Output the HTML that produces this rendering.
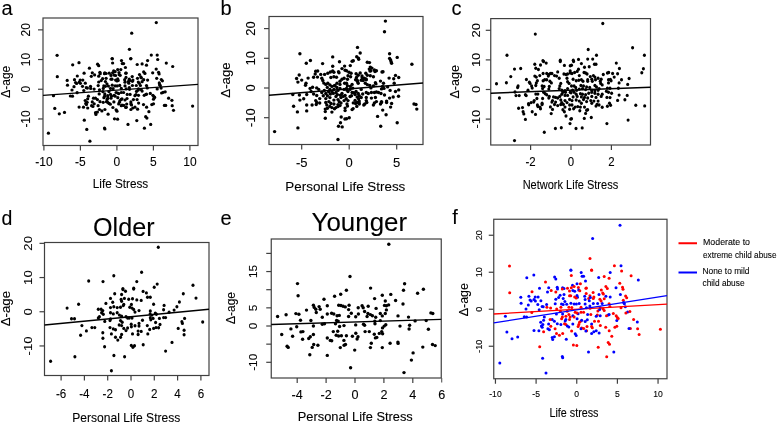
<!DOCTYPE html><html><head><meta charset="utf-8"><style>
html,body{margin:0;padding:0;background:#fff;width:778px;height:424px;overflow:hidden}
svg{display:block;will-change:transform}
text{font-family:"Liberation Sans",sans-serif;fill:#000;stroke:#000;stroke-width:0.1px}
</style></head><body>
<svg width="778" height="424" viewBox="0 0 778 424">
<rect x="43" y="18" width="155" height="127.5" fill="none" stroke="#404040" stroke-width="1.2"/>
<line x1="43.90" y1="145.5" x2="43.90" y2="150.5" stroke="#404040" stroke-width="1.2"/>
<line x1="80.40" y1="145.5" x2="80.40" y2="150.5" stroke="#404040" stroke-width="1.2"/>
<line x1="116.90" y1="145.5" x2="116.90" y2="150.5" stroke="#404040" stroke-width="1.2"/>
<line x1="153.40" y1="145.5" x2="153.40" y2="150.5" stroke="#404040" stroke-width="1.2"/>
<line x1="189.90" y1="145.5" x2="189.90" y2="150.5" stroke="#404040" stroke-width="1.2"/>
<line x1="38" y1="29.85" x2="43" y2="29.85" stroke="#404040" stroke-width="1.2"/>
<line x1="38" y1="59.55" x2="43" y2="59.55" stroke="#404040" stroke-width="1.2"/>
<line x1="38" y1="89.25" x2="43" y2="89.25" stroke="#404040" stroke-width="1.2"/>
<line x1="38" y1="118.95" x2="43" y2="118.95" stroke="#404040" stroke-width="1.2"/>
<rect x="269" y="16.5" width="154" height="128.0" fill="none" stroke="#404040" stroke-width="1.2"/>
<line x1="301.70" y1="144.5" x2="301.70" y2="149.5" stroke="#404040" stroke-width="1.2"/>
<line x1="349.20" y1="144.5" x2="349.20" y2="149.5" stroke="#404040" stroke-width="1.2"/>
<line x1="396.70" y1="144.5" x2="396.70" y2="149.5" stroke="#404040" stroke-width="1.2"/>
<line x1="264" y1="28.60" x2="269" y2="28.60" stroke="#404040" stroke-width="1.2"/>
<line x1="264" y1="58.30" x2="269" y2="58.30" stroke="#404040" stroke-width="1.2"/>
<line x1="264" y1="88.00" x2="269" y2="88.00" stroke="#404040" stroke-width="1.2"/>
<line x1="264" y1="117.70" x2="269" y2="117.70" stroke="#404040" stroke-width="1.2"/>
<rect x="490.75" y="18.6" width="159.75" height="126.4" fill="none" stroke="#404040" stroke-width="1.2"/>
<line x1="530.60" y1="145" x2="530.60" y2="150" stroke="#404040" stroke-width="1.2"/>
<line x1="571.00" y1="145" x2="571.00" y2="150" stroke="#404040" stroke-width="1.2"/>
<line x1="611.40" y1="145" x2="611.40" y2="150" stroke="#404040" stroke-width="1.2"/>
<line x1="485.75" y1="30.30" x2="490.75" y2="30.30" stroke="#404040" stroke-width="1.2"/>
<line x1="485.75" y1="59.90" x2="490.75" y2="59.90" stroke="#404040" stroke-width="1.2"/>
<line x1="485.75" y1="89.50" x2="490.75" y2="89.50" stroke="#404040" stroke-width="1.2"/>
<line x1="485.75" y1="119.10" x2="490.75" y2="119.10" stroke="#404040" stroke-width="1.2"/>
<rect x="44.5" y="242.5" width="164.5" height="133.0" fill="none" stroke="#404040" stroke-width="1.2"/>
<line x1="61.10" y1="375.5" x2="61.10" y2="380.5" stroke="#404040" stroke-width="1.2"/>
<line x1="84.40" y1="375.5" x2="84.40" y2="380.5" stroke="#404040" stroke-width="1.2"/>
<line x1="107.70" y1="375.5" x2="107.70" y2="380.5" stroke="#404040" stroke-width="1.2"/>
<line x1="131.00" y1="375.5" x2="131.00" y2="380.5" stroke="#404040" stroke-width="1.2"/>
<line x1="154.30" y1="375.5" x2="154.30" y2="380.5" stroke="#404040" stroke-width="1.2"/>
<line x1="177.60" y1="375.5" x2="177.60" y2="380.5" stroke="#404040" stroke-width="1.2"/>
<line x1="200.90" y1="375.5" x2="200.90" y2="380.5" stroke="#404040" stroke-width="1.2"/>
<line x1="39.5" y1="243.35" x2="44.5" y2="243.35" stroke="#404040" stroke-width="1.2"/>
<line x1="39.5" y1="277.55" x2="44.5" y2="277.55" stroke="#404040" stroke-width="1.2"/>
<line x1="39.5" y1="311.75" x2="44.5" y2="311.75" stroke="#404040" stroke-width="1.2"/>
<line x1="39.5" y1="345.95" x2="44.5" y2="345.95" stroke="#404040" stroke-width="1.2"/>
<rect x="271.25" y="239" width="170.0" height="139" fill="none" stroke="#404040" stroke-width="1.2"/>
<line x1="297.20" y1="378" x2="297.20" y2="383" stroke="#404040" stroke-width="1.2"/>
<line x1="326.10" y1="378" x2="326.10" y2="383" stroke="#404040" stroke-width="1.2"/>
<line x1="355.00" y1="378" x2="355.00" y2="383" stroke="#404040" stroke-width="1.2"/>
<line x1="383.90" y1="378" x2="383.90" y2="383" stroke="#404040" stroke-width="1.2"/>
<line x1="412.80" y1="378" x2="412.80" y2="383" stroke="#404040" stroke-width="1.2"/>
<line x1="266.25" y1="253.40" x2="271.25" y2="253.40" stroke="#404040" stroke-width="1.2"/>
<line x1="266.25" y1="271.55" x2="271.25" y2="271.55" stroke="#404040" stroke-width="1.2"/>
<line x1="266.25" y1="289.70" x2="271.25" y2="289.70" stroke="#404040" stroke-width="1.2"/>
<line x1="266.25" y1="307.85" x2="271.25" y2="307.85" stroke="#404040" stroke-width="1.2"/>
<line x1="266.25" y1="326.00" x2="271.25" y2="326.00" stroke="#404040" stroke-width="1.2"/>
<line x1="266.25" y1="344.15" x2="271.25" y2="344.15" stroke="#404040" stroke-width="1.2"/>
<line x1="266.25" y1="362.30" x2="271.25" y2="362.30" stroke="#404040" stroke-width="1.2"/>
<rect x="493.75" y="219.25" width="173.25" height="159.5" fill="none" stroke="#404040" stroke-width="1.2"/>
<line x1="495.45" y1="378.75" x2="495.45" y2="383.75" stroke="#404040" stroke-width="1.2"/>
<line x1="536.10" y1="378.75" x2="536.10" y2="383.75" stroke="#404040" stroke-width="1.2"/>
<line x1="576.75" y1="378.75" x2="576.75" y2="383.75" stroke="#404040" stroke-width="1.2"/>
<line x1="617.40" y1="378.75" x2="617.40" y2="383.75" stroke="#404040" stroke-width="1.2"/>
<line x1="658.05" y1="378.75" x2="658.05" y2="383.75" stroke="#404040" stroke-width="1.2"/>
<line x1="488.75" y1="235.25" x2="493.75" y2="235.25" stroke="#404040" stroke-width="1.2"/>
<line x1="488.75" y1="272.25" x2="493.75" y2="272.25" stroke="#404040" stroke-width="1.2"/>
<line x1="488.75" y1="309.25" x2="493.75" y2="309.25" stroke="#404040" stroke-width="1.2"/>
<line x1="488.75" y1="346.25" x2="493.75" y2="346.25" stroke="#404040" stroke-width="1.2"/>
<circle cx="602.7" cy="292.9" r="1.5" fill="#f00"/>
<circle cx="564.5" cy="323.8" r="1.5" fill="#f00"/>
<circle cx="591.6" cy="324.0" r="1.5" fill="#00f"/>
<circle cx="572.5" cy="285.2" r="1.5" fill="#00f"/>
<circle cx="526.0" cy="309.1" r="1.5" fill="#00f"/>
<circle cx="586.2" cy="293.5" r="1.5" fill="#f00"/>
<circle cx="557.2" cy="287.2" r="1.5" fill="#00f"/>
<circle cx="547.5" cy="292.1" r="1.5" fill="#00f"/>
<circle cx="586.4" cy="307.8" r="1.5" fill="#00f"/>
<circle cx="602.2" cy="303.5" r="1.5" fill="#00f"/>
<circle cx="575.2" cy="312.3" r="1.5" fill="#f00"/>
<circle cx="576.4" cy="304.1" r="1.5" fill="#00f"/>
<circle cx="550.6" cy="308.1" r="1.5" fill="#f00"/>
<circle cx="584.7" cy="296.3" r="1.5" fill="#00f"/>
<circle cx="560.9" cy="324.5" r="1.5" fill="#00f"/>
<circle cx="587.0" cy="326.6" r="1.5" fill="#f00"/>
<circle cx="601.3" cy="290.0" r="1.5" fill="#f00"/>
<circle cx="557.5" cy="288.9" r="1.5" fill="#00f"/>
<circle cx="556.7" cy="308.9" r="1.5" fill="#f00"/>
<circle cx="560.4" cy="311.2" r="1.5" fill="#f00"/>
<circle cx="573.4" cy="345.0" r="1.5" fill="#f00"/>
<circle cx="562.6" cy="287.7" r="1.5" fill="#00f"/>
<circle cx="551.2" cy="290.4" r="1.5" fill="#f00"/>
<circle cx="597.9" cy="311.0" r="1.5" fill="#f00"/>
<circle cx="614.4" cy="265.8" r="1.5" fill="#f00"/>
<circle cx="610.2" cy="272.5" r="1.5" fill="#00f"/>
<circle cx="601.1" cy="300.9" r="1.5" fill="#f00"/>
<circle cx="630.4" cy="328.4" r="1.5" fill="#f00"/>
<circle cx="555.8" cy="299.2" r="1.5" fill="#00f"/>
<circle cx="597.3" cy="315.0" r="1.5" fill="#f00"/>
<circle cx="565.9" cy="324.5" r="1.5" fill="#f00"/>
<circle cx="605.7" cy="327.3" r="1.5" fill="#f00"/>
<circle cx="600.2" cy="307.8" r="1.5" fill="#00f"/>
<circle cx="625.3" cy="306.8" r="1.5" fill="#00f"/>
<circle cx="564.0" cy="288.6" r="1.5" fill="#00f"/>
<circle cx="548.6" cy="324.0" r="1.5" fill="#00f"/>
<circle cx="539.7" cy="346.8" r="1.5" fill="#f00"/>
<circle cx="588.7" cy="298.6" r="1.5" fill="#f00"/>
<circle cx="543.2" cy="306.8" r="1.5" fill="#00f"/>
<circle cx="570.7" cy="295.7" r="1.5" fill="#f00"/>
<circle cx="569.5" cy="295.7" r="1.5" fill="#f00"/>
<circle cx="609.1" cy="278.2" r="1.5" fill="#f00"/>
<circle cx="623.3" cy="300.3" r="1.5" fill="#f00"/>
<circle cx="607.3" cy="288.5" r="1.5" fill="#f00"/>
<circle cx="613.8" cy="352.1" r="1.5" fill="#00f"/>
<circle cx="596.2" cy="316.3" r="1.5" fill="#00f"/>
<circle cx="560.1" cy="295.2" r="1.5" fill="#00f"/>
<circle cx="590.0" cy="258.5" r="1.5" fill="#f00"/>
<circle cx="552.2" cy="337.4" r="1.5" fill="#00f"/>
<circle cx="611.8" cy="336.3" r="1.5" fill="#f00"/>
<circle cx="605.9" cy="296.3" r="1.5" fill="#00f"/>
<circle cx="585.5" cy="281.1" r="1.5" fill="#00f"/>
<circle cx="561.5" cy="304.1" r="1.5" fill="#00f"/>
<circle cx="531.2" cy="301.1" r="1.5" fill="#00f"/>
<circle cx="542.6" cy="358.3" r="1.5" fill="#00f"/>
<circle cx="563.2" cy="304.6" r="1.5" fill="#00f"/>
<circle cx="561.6" cy="318.7" r="1.5" fill="#f00"/>
<circle cx="565.9" cy="319.4" r="1.5" fill="#00f"/>
<circle cx="609.1" cy="303.8" r="1.5" fill="#f00"/>
<circle cx="562.6" cy="314.1" r="1.5" fill="#00f"/>
<circle cx="604.2" cy="298.8" r="1.5" fill="#f00"/>
<circle cx="512.0" cy="338.8" r="1.5" fill="#00f"/>
<circle cx="596.2" cy="330.7" r="1.5" fill="#00f"/>
<circle cx="562.7" cy="333.5" r="1.5" fill="#f00"/>
<circle cx="581.7" cy="328.1" r="1.5" fill="#f00"/>
<circle cx="598.7" cy="277.4" r="1.5" fill="#00f"/>
<circle cx="599.6" cy="309.5" r="1.5" fill="#00f"/>
<circle cx="539.5" cy="288.3" r="1.5" fill="#00f"/>
<circle cx="616.8" cy="320.6" r="1.5" fill="#00f"/>
<circle cx="528.9" cy="296.3" r="1.5" fill="#00f"/>
<circle cx="577.5" cy="297.2" r="1.5" fill="#00f"/>
<circle cx="571.3" cy="287.7" r="1.5" fill="#f00"/>
<circle cx="574.1" cy="304.1" r="1.5" fill="#00f"/>
<circle cx="558.6" cy="297.5" r="1.5" fill="#00f"/>
<circle cx="557.3" cy="323.8" r="1.5" fill="#00f"/>
<circle cx="609.1" cy="314.4" r="1.5" fill="#00f"/>
<circle cx="637.6" cy="328.8" r="1.5" fill="#f00"/>
<circle cx="578.1" cy="313.7" r="1.5" fill="#00f"/>
<circle cx="568.9" cy="314.6" r="1.5" fill="#f00"/>
<circle cx="554.4" cy="321.2" r="1.5" fill="#00f"/>
<circle cx="626.7" cy="297.7" r="1.5" fill="#f00"/>
<circle cx="603.4" cy="294.0" r="1.5" fill="#f00"/>
<circle cx="562.7" cy="357.8" r="1.5" fill="#00f"/>
<circle cx="638.3" cy="280.0" r="1.5" fill="#00f"/>
<circle cx="592.3" cy="327.8" r="1.5" fill="#f00"/>
<circle cx="572.9" cy="290.6" r="1.5" fill="#00f"/>
<circle cx="574.7" cy="291.2" r="1.5" fill="#00f"/>
<circle cx="619.8" cy="283.2" r="1.5" fill="#f00"/>
<circle cx="546.6" cy="304.6" r="1.5" fill="#00f"/>
<circle cx="617.3" cy="317.5" r="1.5" fill="#f00"/>
<circle cx="593.8" cy="331.7" r="1.5" fill="#00f"/>
<circle cx="631.1" cy="275.7" r="1.5" fill="#f00"/>
<circle cx="581.0" cy="320.9" r="1.5" fill="#f00"/>
<circle cx="537.8" cy="304.6" r="1.5" fill="#00f"/>
<circle cx="540.9" cy="300.7" r="1.5" fill="#00f"/>
<circle cx="542.1" cy="306.4" r="1.5" fill="#00f"/>
<circle cx="621.0" cy="307.8" r="1.5" fill="#f00"/>
<circle cx="524.3" cy="316.7" r="1.5" fill="#00f"/>
<circle cx="569.5" cy="319.4" r="1.5" fill="#f00"/>
<circle cx="555.8" cy="278.9" r="1.5" fill="#00f"/>
<circle cx="554.6" cy="277.1" r="1.5" fill="#00f"/>
<circle cx="624.4" cy="303.8" r="1.5" fill="#00f"/>
<circle cx="570.9" cy="270.3" r="1.5" fill="#00f"/>
<circle cx="660.4" cy="329.2" r="1.5" fill="#f00"/>
<circle cx="538.9" cy="330.7" r="1.5" fill="#00f"/>
<circle cx="614.9" cy="327.3" r="1.5" fill="#f00"/>
<circle cx="547.9" cy="328.8" r="1.5" fill="#00f"/>
<circle cx="554.4" cy="336.7" r="1.5" fill="#00f"/>
<circle cx="576.2" cy="298.0" r="1.5" fill="#f00"/>
<circle cx="520.8" cy="297.2" r="1.5" fill="#00f"/>
<circle cx="590.1" cy="308.3" r="1.5" fill="#f00"/>
<circle cx="599.0" cy="294.6" r="1.5" fill="#00f"/>
<circle cx="577.0" cy="312.9" r="1.5" fill="#f00"/>
<circle cx="579.5" cy="322.3" r="1.5" fill="#f00"/>
<circle cx="534.0" cy="299.5" r="1.5" fill="#00f"/>
<circle cx="546.0" cy="372.9" r="1.5" fill="#00f"/>
<circle cx="562.3" cy="288.9" r="1.5" fill="#f00"/>
<circle cx="589.3" cy="300.7" r="1.5" fill="#00f"/>
<circle cx="567.5" cy="288.3" r="1.5" fill="#f00"/>
<circle cx="563.2" cy="298.6" r="1.5" fill="#00f"/>
<circle cx="609.9" cy="306.6" r="1.5" fill="#f00"/>
<circle cx="578.4" cy="287.5" r="1.5" fill="#f00"/>
<circle cx="597.6" cy="303.5" r="1.5" fill="#00f"/>
<circle cx="620.4" cy="294.6" r="1.5" fill="#00f"/>
<circle cx="509.5" cy="265.9" r="1.5" fill="#f00"/>
<circle cx="570.9" cy="270.0" r="1.5" fill="#00f"/>
<circle cx="581.0" cy="312.3" r="1.5" fill="#f00"/>
<circle cx="625.6" cy="296.1" r="1.5" fill="#f00"/>
<circle cx="608.2" cy="314.9" r="1.5" fill="#00f"/>
<circle cx="572.8" cy="324.0" r="1.5" fill="#00f"/>
<circle cx="542.2" cy="327.3" r="1.5" fill="#00f"/>
<circle cx="605.9" cy="286.6" r="1.5" fill="#f00"/>
<circle cx="555.8" cy="292.0" r="1.5" fill="#f00"/>
<circle cx="593.9" cy="296.9" r="1.5" fill="#f00"/>
<circle cx="568.8" cy="326.9" r="1.5" fill="#00f"/>
<circle cx="609.5" cy="344.2" r="1.5" fill="#f00"/>
<circle cx="542.9" cy="324.5" r="1.5" fill="#00f"/>
<circle cx="577.0" cy="295.4" r="1.5" fill="#00f"/>
<circle cx="587.3" cy="319.7" r="1.5" fill="#00f"/>
<circle cx="528.3" cy="305.1" r="1.5" fill="#00f"/>
<circle cx="545.5" cy="282.0" r="1.5" fill="#f00"/>
<circle cx="499.8" cy="363.0" r="1.5" fill="#00f"/>
<circle cx="609.2" cy="330.7" r="1.5" fill="#f00"/>
<circle cx="532.0" cy="291.7" r="1.5" fill="#f00"/>
<circle cx="598.5" cy="321.2" r="1.5" fill="#f00"/>
<circle cx="583.6" cy="312.3" r="1.5" fill="#f00"/>
<circle cx="600.2" cy="315.8" r="1.5" fill="#00f"/>
<circle cx="591.6" cy="269.9" r="1.5" fill="#f00"/>
<circle cx="616.2" cy="315.8" r="1.5" fill="#f00"/>
<circle cx="585.2" cy="321.6" r="1.5" fill="#00f"/>
<circle cx="604.2" cy="276.6" r="1.5" fill="#f00"/>
<circle cx="613.3" cy="313.5" r="1.5" fill="#f00"/>
<circle cx="570.1" cy="316.9" r="1.5" fill="#f00"/>
<circle cx="571.6" cy="330.9" r="1.5" fill="#f00"/>
<circle cx="579.2" cy="303.4" r="1.5" fill="#00f"/>
<circle cx="621.0" cy="265.8" r="1.5" fill="#00f"/>
<circle cx="598.2" cy="347.3" r="1.5" fill="#f00"/>
<circle cx="589.9" cy="295.7" r="1.5" fill="#f00"/>
<circle cx="574.1" cy="286.4" r="1.5" fill="#f00"/>
<circle cx="564.9" cy="301.5" r="1.5" fill="#00f"/>
<circle cx="593.3" cy="298.4" r="1.5" fill="#f00"/>
<circle cx="571.3" cy="275.5" r="1.5" fill="#f00"/>
<circle cx="586.6" cy="330.7" r="1.5" fill="#f00"/>
<circle cx="569.5" cy="290.9" r="1.5" fill="#f00"/>
<circle cx="593.3" cy="303.5" r="1.5" fill="#00f"/>
<circle cx="577.0" cy="283.7" r="1.5" fill="#00f"/>
<circle cx="565.2" cy="320.9" r="1.5" fill="#00f"/>
<circle cx="555.1" cy="328.8" r="1.5" fill="#f00"/>
<circle cx="575.2" cy="333.8" r="1.5" fill="#00f"/>
<circle cx="583.6" cy="276.3" r="1.5" fill="#00f"/>
<circle cx="623.0" cy="289.2" r="1.5" fill="#f00"/>
<circle cx="585.9" cy="330.9" r="1.5" fill="#00f"/>
<circle cx="564.0" cy="294.6" r="1.5" fill="#00f"/>
<circle cx="530.0" cy="300.0" r="1.5" fill="#00f"/>
<circle cx="639.1" cy="334.5" r="1.5" fill="#f00"/>
<circle cx="560.9" cy="307.2" r="1.5" fill="#f00"/>
<circle cx="543.6" cy="331.7" r="1.5" fill="#f00"/>
<circle cx="578.7" cy="290.0" r="1.5" fill="#00f"/>
<circle cx="506.9" cy="332.1" r="1.5" fill="#00f"/>
<circle cx="581.0" cy="307.2" r="1.5" fill="#f00"/>
<circle cx="565.9" cy="316.3" r="1.5" fill="#f00"/>
<circle cx="637.3" cy="322.0" r="1.5" fill="#00f"/>
<circle cx="627.6" cy="312.1" r="1.5" fill="#00f"/>
<circle cx="555.2" cy="303.8" r="1.5" fill="#00f"/>
<circle cx="568.9" cy="307.2" r="1.5" fill="#f00"/>
<circle cx="604.2" cy="310.6" r="1.5" fill="#f00"/>
<circle cx="534.0" cy="330.5" r="1.5" fill="#00f"/>
<circle cx="572.9" cy="315.8" r="1.5" fill="#00f"/>
<circle cx="567.3" cy="325.9" r="1.5" fill="#00f"/>
<circle cx="526.8" cy="277.8" r="1.5" fill="#00f"/>
<circle cx="590.8" cy="314.6" r="1.5" fill="#f00"/>
<circle cx="562.3" cy="356.5" r="1.5" fill="#00f"/>
<circle cx="608.2" cy="342.4" r="1.5" fill="#f00"/>
<circle cx="566.3" cy="339.3" r="1.5" fill="#00f"/>
<circle cx="580.4" cy="283.7" r="1.5" fill="#f00"/>
<circle cx="610.2" cy="296.9" r="1.5" fill="#00f"/>
<circle cx="585.1" cy="304.1" r="1.5" fill="#00f"/>
<circle cx="606.7" cy="356.8" r="1.5" fill="#f00"/>
<circle cx="571.8" cy="307.5" r="1.5" fill="#f00"/>
<circle cx="581.0" cy="328.8" r="1.5" fill="#00f"/>
<circle cx="559.4" cy="335.3" r="1.5" fill="#f00"/>
<circle cx="577.1" cy="318.7" r="1.5" fill="#00f"/>
<circle cx="574.1" cy="316.9" r="1.5" fill="#f00"/>
<circle cx="594.5" cy="321.2" r="1.5" fill="#f00"/>
<circle cx="623.6" cy="302.6" r="1.5" fill="#00f"/>
<circle cx="622.5" cy="287.2" r="1.5" fill="#f00"/>
<circle cx="535.4" cy="300.9" r="1.5" fill="#00f"/>
<circle cx="590.4" cy="297.5" r="1.5" fill="#00f"/>
<circle cx="556.5" cy="333.5" r="1.5" fill="#f00"/>
<circle cx="579.8" cy="290.8" r="1.5" fill="#f00"/>
<circle cx="566.7" cy="304.3" r="1.5" fill="#00f"/>
<circle cx="535.2" cy="296.9" r="1.5" fill="#00f"/>
<circle cx="574.7" cy="296.9" r="1.5" fill="#f00"/>
<circle cx="588.5" cy="352.1" r="1.5" fill="#00f"/>
<circle cx="603.0" cy="308.7" r="1.5" fill="#f00"/>
<circle cx="541.4" cy="325.9" r="1.5" fill="#00f"/>
<circle cx="578.1" cy="326.6" r="1.5" fill="#f00"/>
<circle cx="585.1" cy="299.5" r="1.5" fill="#00f"/>
<circle cx="552.2" cy="319.4" r="1.5" fill="#00f"/>
<circle cx="616.8" cy="326.3" r="1.5" fill="#f00"/>
<circle cx="550.1" cy="319.4" r="1.5" fill="#f00"/>
<circle cx="531.8" cy="312.6" r="1.5" fill="#f00"/>
<circle cx="625.9" cy="312.9" r="1.5" fill="#f00"/>
<circle cx="587.6" cy="314.6" r="1.5" fill="#00f"/>
<circle cx="544.3" cy="316.9" r="1.5" fill="#00f"/>
<circle cx="629.0" cy="328.4" r="1.5" fill="#00f"/>
<circle cx="576.2" cy="335.5" r="1.5" fill="#00f"/>
<circle cx="549.4" cy="329.8" r="1.5" fill="#00f"/>
<circle cx="585.9" cy="288.3" r="1.5" fill="#f00"/>
<circle cx="505.4" cy="316.3" r="1.5" fill="#00f"/>
<circle cx="591.6" cy="333.5" r="1.5" fill="#00f"/>
<circle cx="578.8" cy="324.5" r="1.5" fill="#f00"/>
<circle cx="621.6" cy="271.1" r="1.5" fill="#f00"/>
<circle cx="543.6" cy="320.2" r="1.5" fill="#00f"/>
<circle cx="539.2" cy="309.8" r="1.5" fill="#00f"/>
<circle cx="567.2" cy="311.2" r="1.5" fill="#f00"/>
<circle cx="517.7" cy="337.1" r="1.5" fill="#00f"/>
<circle cx="629.9" cy="311.4" r="1.5" fill="#f00"/>
<circle cx="592.6" cy="238.4" r="1.5" fill="#00f"/>
<circle cx="599.1" cy="333.1" r="1.5" fill="#00f"/>
<circle cx="546.9" cy="307.2" r="1.5" fill="#f00"/>
<circle cx="582.1" cy="276.3" r="1.5" fill="#00f"/>
<circle cx="581.2" cy="272.5" r="1.5" fill="#00f"/>
<circle cx="533.8" cy="275.1" r="1.5" fill="#00f"/>
<circle cx="589.9" cy="306.0" r="1.5" fill="#00f"/>
<circle cx="633.6" cy="319.4" r="1.5" fill="#f00"/>
<circle cx="538.1" cy="296.9" r="1.5" fill="#00f"/>
<circle cx="618.2" cy="318.4" r="1.5" fill="#f00"/>
<circle cx="509.7" cy="292.7" r="1.5" fill="#f00"/>
<circle cx="526.6" cy="316.9" r="1.5" fill="#00f"/>
<circle cx="599.9" cy="299.2" r="1.5" fill="#f00"/>
<circle cx="591.6" cy="270.3" r="1.5" fill="#f00"/>
<circle cx="583.7" cy="328.4" r="1.5" fill="#f00"/>
<circle cx="552.7" cy="339.6" r="1.5" fill="#00f"/>
<circle cx="562.4" cy="316.9" r="1.5" fill="#f00"/>
<circle cx="620.0" cy="225.2" r="1.5" fill="#00f"/>
<circle cx="606.5" cy="315.8" r="1.5" fill="#f00"/>
<circle cx="593.1" cy="292.5" r="1.5" fill="#f00"/>
<circle cx="548.7" cy="287.7" r="1.5" fill="#00f"/>
<circle cx="591.6" cy="326.6" r="1.5" fill="#f00"/>
<circle cx="570.9" cy="303.2" r="1.5" fill="#00f"/>
<circle cx="540.7" cy="322.3" r="1.5" fill="#00f"/>
<circle cx="586.4" cy="288.1" r="1.5" fill="#f00"/>
<circle cx="576.8" cy="345.6" r="1.5" fill="#f00"/>
<circle cx="550.8" cy="326.3" r="1.5" fill="#f00"/>
<circle cx="600.3" cy="325.5" r="1.5" fill="#f00"/>
<circle cx="556.4" cy="314.1" r="1.5" fill="#00f"/>
<circle cx="581.7" cy="320.2" r="1.5" fill="#00f"/>
<circle cx="521.1" cy="303.2" r="1.5" fill="#00f"/>
<circle cx="616.0" cy="287.7" r="1.5" fill="#00f"/>
<line x1="493.75" y1="314" x2="667" y2="304.1" stroke="#f00" stroke-width="1.3"/>
<line x1="493.75" y1="322.9" x2="667" y2="295.7" stroke="#00f" stroke-width="1.3"/>
<circle cx="140.8" cy="76.9" r="1.62" fill="#000"/>
<circle cx="106.5" cy="101.7" r="1.62" fill="#000"/>
<circle cx="130.9" cy="101.9" r="1.62" fill="#000"/>
<circle cx="113.7" cy="70.8" r="1.62" fill="#000"/>
<circle cx="72.0" cy="90.0" r="1.62" fill="#000"/>
<circle cx="126.0" cy="77.4" r="1.62" fill="#000"/>
<circle cx="99.9" cy="72.3" r="1.62" fill="#000"/>
<circle cx="91.3" cy="76.3" r="1.62" fill="#000"/>
<circle cx="126.2" cy="88.9" r="1.62" fill="#000"/>
<circle cx="140.4" cy="85.5" r="1.62" fill="#000"/>
<circle cx="116.1" cy="92.5" r="1.62" fill="#000"/>
<circle cx="117.2" cy="85.9" r="1.62" fill="#000"/>
<circle cx="94.1" cy="89.1" r="1.62" fill="#000"/>
<circle cx="124.7" cy="79.7" r="1.62" fill="#000"/>
<circle cx="103.2" cy="102.3" r="1.62" fill="#000"/>
<circle cx="126.7" cy="104.0" r="1.62" fill="#000"/>
<circle cx="139.5" cy="74.6" r="1.62" fill="#000"/>
<circle cx="100.2" cy="73.7" r="1.62" fill="#000"/>
<circle cx="99.5" cy="89.8" r="1.62" fill="#000"/>
<circle cx="102.8" cy="91.6" r="1.62" fill="#000"/>
<circle cx="114.5" cy="118.8" r="1.62" fill="#000"/>
<circle cx="104.8" cy="72.8" r="1.62" fill="#000"/>
<circle cx="94.6" cy="74.9" r="1.62" fill="#000"/>
<circle cx="136.5" cy="91.4" r="1.62" fill="#000"/>
<circle cx="151.3" cy="55.1" r="1.62" fill="#000"/>
<circle cx="147.6" cy="60.6" r="1.62" fill="#000"/>
<circle cx="139.3" cy="83.3" r="1.62" fill="#000"/>
<circle cx="165.7" cy="105.4" r="1.62" fill="#000"/>
<circle cx="98.7" cy="82.0" r="1.62" fill="#000"/>
<circle cx="136.0" cy="94.6" r="1.62" fill="#000"/>
<circle cx="107.7" cy="102.3" r="1.62" fill="#000"/>
<circle cx="143.5" cy="104.6" r="1.62" fill="#000"/>
<circle cx="138.5" cy="88.9" r="1.62" fill="#000"/>
<circle cx="161.1" cy="88.1" r="1.62" fill="#000"/>
<circle cx="106.1" cy="73.5" r="1.62" fill="#000"/>
<circle cx="92.3" cy="101.9" r="1.62" fill="#000"/>
<circle cx="84.3" cy="120.2" r="1.62" fill="#000"/>
<circle cx="128.2" cy="81.5" r="1.62" fill="#000"/>
<circle cx="87.4" cy="88.1" r="1.62" fill="#000"/>
<circle cx="112.0" cy="79.2" r="1.62" fill="#000"/>
<circle cx="111.0" cy="79.2" r="1.62" fill="#000"/>
<circle cx="146.5" cy="65.2" r="1.62" fill="#000"/>
<circle cx="159.3" cy="82.9" r="1.62" fill="#000"/>
<circle cx="144.9" cy="73.4" r="1.62" fill="#000"/>
<circle cx="150.7" cy="124.4" r="1.62" fill="#000"/>
<circle cx="134.9" cy="95.7" r="1.62" fill="#000"/>
<circle cx="102.6" cy="78.7" r="1.62" fill="#000"/>
<circle cx="129.4" cy="49.3" r="1.62" fill="#000"/>
<circle cx="95.5" cy="112.7" r="1.62" fill="#000"/>
<circle cx="148.9" cy="111.7" r="1.62" fill="#000"/>
<circle cx="143.7" cy="79.7" r="1.62" fill="#000"/>
<circle cx="125.4" cy="67.5" r="1.62" fill="#000"/>
<circle cx="103.8" cy="85.9" r="1.62" fill="#000"/>
<circle cx="76.6" cy="83.5" r="1.62" fill="#000"/>
<circle cx="86.8" cy="129.4" r="1.62" fill="#000"/>
<circle cx="105.4" cy="86.3" r="1.62" fill="#000"/>
<circle cx="103.9" cy="97.7" r="1.62" fill="#000"/>
<circle cx="107.7" cy="98.2" r="1.62" fill="#000"/>
<circle cx="146.5" cy="85.6" r="1.62" fill="#000"/>
<circle cx="104.8" cy="93.9" r="1.62" fill="#000"/>
<circle cx="142.1" cy="81.7" r="1.62" fill="#000"/>
<circle cx="59.3" cy="113.8" r="1.62" fill="#000"/>
<circle cx="135.0" cy="107.2" r="1.62" fill="#000"/>
<circle cx="104.9" cy="109.5" r="1.62" fill="#000"/>
<circle cx="122.0" cy="105.2" r="1.62" fill="#000"/>
<circle cx="137.2" cy="64.5" r="1.62" fill="#000"/>
<circle cx="138.0" cy="90.2" r="1.62" fill="#000"/>
<circle cx="84.1" cy="73.2" r="1.62" fill="#000"/>
<circle cx="153.5" cy="99.2" r="1.62" fill="#000"/>
<circle cx="74.5" cy="79.7" r="1.62" fill="#000"/>
<circle cx="118.2" cy="80.4" r="1.62" fill="#000"/>
<circle cx="112.6" cy="72.8" r="1.62" fill="#000"/>
<circle cx="115.1" cy="85.9" r="1.62" fill="#000"/>
<circle cx="101.2" cy="80.6" r="1.62" fill="#000"/>
<circle cx="100.0" cy="101.7" r="1.62" fill="#000"/>
<circle cx="146.5" cy="94.2" r="1.62" fill="#000"/>
<circle cx="172.2" cy="105.7" r="1.62" fill="#000"/>
<circle cx="118.7" cy="93.6" r="1.62" fill="#000"/>
<circle cx="110.5" cy="94.4" r="1.62" fill="#000"/>
<circle cx="97.4" cy="99.6" r="1.62" fill="#000"/>
<circle cx="162.4" cy="80.8" r="1.62" fill="#000"/>
<circle cx="141.4" cy="77.8" r="1.62" fill="#000"/>
<circle cx="104.9" cy="129.0" r="1.62" fill="#000"/>
<circle cx="172.7" cy="66.5" r="1.62" fill="#000"/>
<circle cx="131.5" cy="104.9" r="1.62" fill="#000"/>
<circle cx="114.1" cy="75.1" r="1.62" fill="#000"/>
<circle cx="115.6" cy="75.5" r="1.62" fill="#000"/>
<circle cx="156.2" cy="69.1" r="1.62" fill="#000"/>
<circle cx="90.5" cy="86.3" r="1.62" fill="#000"/>
<circle cx="153.9" cy="96.7" r="1.62" fill="#000"/>
<circle cx="132.8" cy="108.0" r="1.62" fill="#000"/>
<circle cx="166.3" cy="63.1" r="1.62" fill="#000"/>
<circle cx="121.3" cy="99.4" r="1.62" fill="#000"/>
<circle cx="82.5" cy="86.3" r="1.62" fill="#000"/>
<circle cx="85.3" cy="83.2" r="1.62" fill="#000"/>
<circle cx="86.3" cy="87.7" r="1.62" fill="#000"/>
<circle cx="157.2" cy="88.9" r="1.62" fill="#000"/>
<circle cx="70.4" cy="96.0" r="1.62" fill="#000"/>
<circle cx="111.0" cy="98.2" r="1.62" fill="#000"/>
<circle cx="98.7" cy="65.7" r="1.62" fill="#000"/>
<circle cx="97.6" cy="64.2" r="1.62" fill="#000"/>
<circle cx="160.3" cy="85.6" r="1.62" fill="#000"/>
<circle cx="112.2" cy="58.8" r="1.62" fill="#000"/>
<circle cx="192.6" cy="106.1" r="1.62" fill="#000"/>
<circle cx="83.5" cy="107.2" r="1.62" fill="#000"/>
<circle cx="151.8" cy="104.6" r="1.62" fill="#000"/>
<circle cx="91.6" cy="105.7" r="1.62" fill="#000"/>
<circle cx="97.4" cy="112.1" r="1.62" fill="#000"/>
<circle cx="117.0" cy="81.0" r="1.62" fill="#000"/>
<circle cx="67.2" cy="80.4" r="1.62" fill="#000"/>
<circle cx="129.5" cy="89.3" r="1.62" fill="#000"/>
<circle cx="137.5" cy="78.3" r="1.62" fill="#000"/>
<circle cx="117.7" cy="93.0" r="1.62" fill="#000"/>
<circle cx="120.0" cy="100.5" r="1.62" fill="#000"/>
<circle cx="79.2" cy="82.2" r="1.62" fill="#000"/>
<circle cx="89.9" cy="141.2" r="1.62" fill="#000"/>
<circle cx="104.5" cy="73.7" r="1.62" fill="#000"/>
<circle cx="128.8" cy="83.2" r="1.62" fill="#000"/>
<circle cx="109.2" cy="73.2" r="1.62" fill="#000"/>
<circle cx="105.4" cy="81.5" r="1.62" fill="#000"/>
<circle cx="147.3" cy="87.9" r="1.62" fill="#000"/>
<circle cx="119.0" cy="72.6" r="1.62" fill="#000"/>
<circle cx="136.3" cy="85.5" r="1.62" fill="#000"/>
<circle cx="156.7" cy="78.3" r="1.62" fill="#000"/>
<circle cx="57.1" cy="55.3" r="1.62" fill="#000"/>
<circle cx="112.2" cy="58.5" r="1.62" fill="#000"/>
<circle cx="121.3" cy="92.5" r="1.62" fill="#000"/>
<circle cx="161.3" cy="79.5" r="1.62" fill="#000"/>
<circle cx="145.7" cy="94.5" r="1.62" fill="#000"/>
<circle cx="113.9" cy="101.9" r="1.62" fill="#000"/>
<circle cx="86.4" cy="104.6" r="1.62" fill="#000"/>
<circle cx="143.7" cy="71.9" r="1.62" fill="#000"/>
<circle cx="98.7" cy="76.2" r="1.62" fill="#000"/>
<circle cx="132.9" cy="80.1" r="1.62" fill="#000"/>
<circle cx="110.3" cy="104.2" r="1.62" fill="#000"/>
<circle cx="146.9" cy="118.1" r="1.62" fill="#000"/>
<circle cx="87.1" cy="102.3" r="1.62" fill="#000"/>
<circle cx="117.7" cy="78.9" r="1.62" fill="#000"/>
<circle cx="127.0" cy="98.5" r="1.62" fill="#000"/>
<circle cx="74.0" cy="86.7" r="1.62" fill="#000"/>
<circle cx="89.4" cy="68.2" r="1.62" fill="#000"/>
<circle cx="48.4" cy="133.2" r="1.62" fill="#000"/>
<circle cx="146.6" cy="107.2" r="1.62" fill="#000"/>
<circle cx="77.3" cy="76.0" r="1.62" fill="#000"/>
<circle cx="137.1" cy="99.6" r="1.62" fill="#000"/>
<circle cx="123.6" cy="92.5" r="1.62" fill="#000"/>
<circle cx="138.5" cy="95.3" r="1.62" fill="#000"/>
<circle cx="130.8" cy="58.5" r="1.62" fill="#000"/>
<circle cx="152.9" cy="95.3" r="1.62" fill="#000"/>
<circle cx="125.0" cy="100.0" r="1.62" fill="#000"/>
<circle cx="142.1" cy="63.9" r="1.62" fill="#000"/>
<circle cx="150.3" cy="93.4" r="1.62" fill="#000"/>
<circle cx="111.5" cy="96.2" r="1.62" fill="#000"/>
<circle cx="112.9" cy="107.5" r="1.62" fill="#000"/>
<circle cx="119.7" cy="85.4" r="1.62" fill="#000"/>
<circle cx="157.2" cy="55.1" r="1.62" fill="#000"/>
<circle cx="136.8" cy="120.6" r="1.62" fill="#000"/>
<circle cx="129.3" cy="79.2" r="1.62" fill="#000"/>
<circle cx="115.1" cy="71.7" r="1.62" fill="#000"/>
<circle cx="106.9" cy="83.8" r="1.62" fill="#000"/>
<circle cx="132.4" cy="81.3" r="1.62" fill="#000"/>
<circle cx="112.6" cy="63.0" r="1.62" fill="#000"/>
<circle cx="126.3" cy="107.2" r="1.62" fill="#000"/>
<circle cx="111.0" cy="75.4" r="1.62" fill="#000"/>
<circle cx="132.4" cy="85.5" r="1.62" fill="#000"/>
<circle cx="117.7" cy="69.6" r="1.62" fill="#000"/>
<circle cx="107.1" cy="99.4" r="1.62" fill="#000"/>
<circle cx="98.1" cy="105.7" r="1.62" fill="#000"/>
<circle cx="116.1" cy="109.8" r="1.62" fill="#000"/>
<circle cx="123.6" cy="63.6" r="1.62" fill="#000"/>
<circle cx="159.1" cy="74.0" r="1.62" fill="#000"/>
<circle cx="125.7" cy="107.5" r="1.62" fill="#000"/>
<circle cx="106.1" cy="78.3" r="1.62" fill="#000"/>
<circle cx="75.6" cy="82.6" r="1.62" fill="#000"/>
<circle cx="173.5" cy="110.3" r="1.62" fill="#000"/>
<circle cx="103.3" cy="88.4" r="1.62" fill="#000"/>
<circle cx="87.7" cy="108.0" r="1.62" fill="#000"/>
<circle cx="119.2" cy="74.6" r="1.62" fill="#000"/>
<circle cx="54.8" cy="108.4" r="1.62" fill="#000"/>
<circle cx="121.3" cy="88.4" r="1.62" fill="#000"/>
<circle cx="107.7" cy="95.7" r="1.62" fill="#000"/>
<circle cx="171.9" cy="100.3" r="1.62" fill="#000"/>
<circle cx="163.2" cy="92.3" r="1.62" fill="#000"/>
<circle cx="98.2" cy="85.6" r="1.62" fill="#000"/>
<circle cx="110.5" cy="88.4" r="1.62" fill="#000"/>
<circle cx="142.1" cy="91.1" r="1.62" fill="#000"/>
<circle cx="79.1" cy="107.1" r="1.62" fill="#000"/>
<circle cx="114.1" cy="95.3" r="1.62" fill="#000"/>
<circle cx="109.0" cy="103.4" r="1.62" fill="#000"/>
<circle cx="72.7" cy="64.8" r="1.62" fill="#000"/>
<circle cx="130.1" cy="94.4" r="1.62" fill="#000"/>
<circle cx="104.5" cy="128.0" r="1.62" fill="#000"/>
<circle cx="145.7" cy="116.7" r="1.62" fill="#000"/>
<circle cx="108.1" cy="114.2" r="1.62" fill="#000"/>
<circle cx="120.8" cy="69.6" r="1.62" fill="#000"/>
<circle cx="147.6" cy="80.1" r="1.62" fill="#000"/>
<circle cx="125.0" cy="85.9" r="1.62" fill="#000"/>
<circle cx="144.4" cy="128.2" r="1.62" fill="#000"/>
<circle cx="113.1" cy="88.7" r="1.62" fill="#000"/>
<circle cx="121.3" cy="105.7" r="1.62" fill="#000"/>
<circle cx="101.9" cy="110.9" r="1.62" fill="#000"/>
<circle cx="117.8" cy="97.7" r="1.62" fill="#000"/>
<circle cx="115.1" cy="96.2" r="1.62" fill="#000"/>
<circle cx="133.4" cy="99.6" r="1.62" fill="#000"/>
<circle cx="159.6" cy="84.7" r="1.62" fill="#000"/>
<circle cx="158.6" cy="72.3" r="1.62" fill="#000"/>
<circle cx="80.4" cy="83.3" r="1.62" fill="#000"/>
<circle cx="129.8" cy="80.6" r="1.62" fill="#000"/>
<circle cx="99.4" cy="109.5" r="1.62" fill="#000"/>
<circle cx="120.2" cy="75.3" r="1.62" fill="#000"/>
<circle cx="108.4" cy="86.1" r="1.62" fill="#000"/>
<circle cx="80.2" cy="80.1" r="1.62" fill="#000"/>
<circle cx="115.6" cy="80.1" r="1.62" fill="#000"/>
<circle cx="128.0" cy="124.4" r="1.62" fill="#000"/>
<circle cx="141.1" cy="89.6" r="1.62" fill="#000"/>
<circle cx="85.8" cy="103.4" r="1.62" fill="#000"/>
<circle cx="118.7" cy="104.0" r="1.62" fill="#000"/>
<circle cx="125.0" cy="82.2" r="1.62" fill="#000"/>
<circle cx="95.5" cy="98.2" r="1.62" fill="#000"/>
<circle cx="153.5" cy="103.8" r="1.62" fill="#000"/>
<circle cx="93.5" cy="98.2" r="1.62" fill="#000"/>
<circle cx="77.1" cy="92.7" r="1.62" fill="#000"/>
<circle cx="161.6" cy="93.0" r="1.62" fill="#000"/>
<circle cx="127.2" cy="94.4" r="1.62" fill="#000"/>
<circle cx="88.4" cy="96.2" r="1.62" fill="#000"/>
<circle cx="164.4" cy="105.4" r="1.62" fill="#000"/>
<circle cx="117.0" cy="111.2" r="1.62" fill="#000"/>
<circle cx="92.9" cy="106.5" r="1.62" fill="#000"/>
<circle cx="125.7" cy="73.2" r="1.62" fill="#000"/>
<circle cx="53.5" cy="95.7" r="1.62" fill="#000"/>
<circle cx="130.9" cy="109.5" r="1.62" fill="#000"/>
<circle cx="119.4" cy="102.3" r="1.62" fill="#000"/>
<circle cx="157.7" cy="59.5" r="1.62" fill="#000"/>
<circle cx="87.7" cy="98.8" r="1.62" fill="#000"/>
<circle cx="83.8" cy="90.5" r="1.62" fill="#000"/>
<circle cx="108.9" cy="91.6" r="1.62" fill="#000"/>
<circle cx="64.5" cy="112.4" r="1.62" fill="#000"/>
<circle cx="165.2" cy="91.8" r="1.62" fill="#000"/>
<circle cx="131.7" cy="33.2" r="1.62" fill="#000"/>
<circle cx="137.6" cy="109.2" r="1.62" fill="#000"/>
<circle cx="90.7" cy="88.4" r="1.62" fill="#000"/>
<circle cx="122.3" cy="63.6" r="1.62" fill="#000"/>
<circle cx="121.5" cy="60.6" r="1.62" fill="#000"/>
<circle cx="79.0" cy="62.7" r="1.62" fill="#000"/>
<circle cx="129.3" cy="87.5" r="1.62" fill="#000"/>
<circle cx="168.6" cy="98.2" r="1.62" fill="#000"/>
<circle cx="82.8" cy="80.1" r="1.62" fill="#000"/>
<circle cx="154.7" cy="97.4" r="1.62" fill="#000"/>
<circle cx="57.3" cy="76.7" r="1.62" fill="#000"/>
<circle cx="72.5" cy="96.2" r="1.62" fill="#000"/>
<circle cx="138.3" cy="82.0" r="1.62" fill="#000"/>
<circle cx="130.8" cy="58.8" r="1.62" fill="#000"/>
<circle cx="123.8" cy="105.4" r="1.62" fill="#000"/>
<circle cx="95.9" cy="114.4" r="1.62" fill="#000"/>
<circle cx="104.6" cy="96.2" r="1.62" fill="#000"/>
<circle cx="156.3" cy="22.6" r="1.62" fill="#000"/>
<circle cx="144.2" cy="95.3" r="1.62" fill="#000"/>
<circle cx="132.2" cy="76.6" r="1.62" fill="#000"/>
<circle cx="92.3" cy="72.8" r="1.62" fill="#000"/>
<circle cx="130.9" cy="104.0" r="1.62" fill="#000"/>
<circle cx="112.2" cy="85.2" r="1.62" fill="#000"/>
<circle cx="85.2" cy="100.5" r="1.62" fill="#000"/>
<circle cx="126.2" cy="73.1" r="1.62" fill="#000"/>
<circle cx="117.6" cy="119.2" r="1.62" fill="#000"/>
<circle cx="94.2" cy="103.8" r="1.62" fill="#000"/>
<circle cx="138.6" cy="103.1" r="1.62" fill="#000"/>
<circle cx="99.2" cy="93.9" r="1.62" fill="#000"/>
<circle cx="122.0" cy="98.8" r="1.62" fill="#000"/>
<circle cx="67.5" cy="85.2" r="1.62" fill="#000"/>
<circle cx="152.7" cy="72.8" r="1.62" fill="#000"/>
<line x1="43" y1="95.35" x2="198" y2="84.4" stroke="#000" stroke-width="1.4"/>
<ellipse cx="88.7" cy="281.0" rx="1.55" ry="1.72" fill="#000"/>
<ellipse cx="103.0" cy="281.6" rx="1.55" ry="1.72" fill="#000"/>
<ellipse cx="113.8" cy="275.8" rx="1.55" ry="1.72" fill="#000"/>
<ellipse cx="122.9" cy="288.6" rx="1.55" ry="1.72" fill="#000"/>
<ellipse cx="158.3" cy="247.3" rx="1.55" ry="1.72" fill="#000"/>
<ellipse cx="141.6" cy="272.2" rx="1.55" ry="1.72" fill="#000"/>
<ellipse cx="136.8" cy="281.6" rx="1.55" ry="1.72" fill="#000"/>
<ellipse cx="157.2" cy="284.1" rx="1.55" ry="1.72" fill="#000"/>
<ellipse cx="154.2" cy="287.2" rx="1.55" ry="1.72" fill="#000"/>
<ellipse cx="193.0" cy="285.2" rx="1.55" ry="1.72" fill="#000"/>
<ellipse cx="133.7" cy="288.3" rx="1.55" ry="1.72" fill="#000"/>
<ellipse cx="78.6" cy="304.3" rx="1.55" ry="1.72" fill="#000"/>
<ellipse cx="67.1" cy="308.1" rx="1.55" ry="1.72" fill="#000"/>
<ellipse cx="71.5" cy="318.7" rx="1.55" ry="1.72" fill="#000"/>
<ellipse cx="74.5" cy="318.7" rx="1.55" ry="1.72" fill="#000"/>
<ellipse cx="81.9" cy="325.6" rx="1.55" ry="1.72" fill="#000"/>
<ellipse cx="86.4" cy="330.9" rx="1.55" ry="1.72" fill="#000"/>
<ellipse cx="91.9" cy="327.6" rx="1.55" ry="1.72" fill="#000"/>
<ellipse cx="94.8" cy="327.6" rx="1.55" ry="1.72" fill="#000"/>
<ellipse cx="80.6" cy="335.3" rx="1.55" ry="1.72" fill="#000"/>
<ellipse cx="98.3" cy="309.3" rx="1.55" ry="1.72" fill="#000"/>
<ellipse cx="101.1" cy="309.3" rx="1.55" ry="1.72" fill="#000"/>
<ellipse cx="102.8" cy="310.6" rx="1.55" ry="1.72" fill="#000"/>
<ellipse cx="101.6" cy="312.8" rx="1.55" ry="1.72" fill="#000"/>
<ellipse cx="103.3" cy="314.3" rx="1.55" ry="1.72" fill="#000"/>
<ellipse cx="98.3" cy="318.0" rx="1.55" ry="1.72" fill="#000"/>
<ellipse cx="99.4" cy="316.7" rx="1.55" ry="1.72" fill="#000"/>
<ellipse cx="104.8" cy="321.4" rx="1.55" ry="1.72" fill="#000"/>
<ellipse cx="105.9" cy="303.4" rx="1.55" ry="1.72" fill="#000"/>
<ellipse cx="110.5" cy="298.4" rx="1.55" ry="1.72" fill="#000"/>
<ellipse cx="112.7" cy="302.3" rx="1.55" ry="1.72" fill="#000"/>
<ellipse cx="114.7" cy="293.7" rx="1.55" ry="1.72" fill="#000"/>
<ellipse cx="110.5" cy="307.6" rx="1.55" ry="1.72" fill="#000"/>
<ellipse cx="113.8" cy="306.7" rx="1.55" ry="1.72" fill="#000"/>
<ellipse cx="117.2" cy="307.6" rx="1.55" ry="1.72" fill="#000"/>
<ellipse cx="120.5" cy="307.3" rx="1.55" ry="1.72" fill="#000"/>
<ellipse cx="123.3" cy="305.6" rx="1.55" ry="1.72" fill="#000"/>
<ellipse cx="123.8" cy="304.5" rx="1.55" ry="1.72" fill="#000"/>
<ellipse cx="121.1" cy="299.5" rx="1.55" ry="1.72" fill="#000"/>
<ellipse cx="121.6" cy="301.2" rx="1.55" ry="1.72" fill="#000"/>
<ellipse cx="124.4" cy="298.4" rx="1.55" ry="1.72" fill="#000"/>
<ellipse cx="121.6" cy="294.5" rx="1.55" ry="1.72" fill="#000"/>
<ellipse cx="122.9" cy="289.6" rx="1.55" ry="1.72" fill="#000"/>
<ellipse cx="125.5" cy="291.2" rx="1.55" ry="1.72" fill="#000"/>
<ellipse cx="110.5" cy="312.8" rx="1.55" ry="1.72" fill="#000"/>
<ellipse cx="113.3" cy="313.9" rx="1.55" ry="1.72" fill="#000"/>
<ellipse cx="117.2" cy="312.8" rx="1.55" ry="1.72" fill="#000"/>
<ellipse cx="119.4" cy="315.1" rx="1.55" ry="1.72" fill="#000"/>
<ellipse cx="121.6" cy="316.2" rx="1.55" ry="1.72" fill="#000"/>
<ellipse cx="126.0" cy="316.7" rx="1.55" ry="1.72" fill="#000"/>
<ellipse cx="110.5" cy="318.9" rx="1.55" ry="1.72" fill="#000"/>
<ellipse cx="110.0" cy="320.6" rx="1.55" ry="1.72" fill="#000"/>
<ellipse cx="120.5" cy="320.6" rx="1.55" ry="1.72" fill="#000"/>
<ellipse cx="122.2" cy="322.3" rx="1.55" ry="1.72" fill="#000"/>
<ellipse cx="119.2" cy="325.0" rx="1.55" ry="1.72" fill="#000"/>
<ellipse cx="121.6" cy="325.6" rx="1.55" ry="1.72" fill="#000"/>
<ellipse cx="123.8" cy="328.4" rx="1.55" ry="1.72" fill="#000"/>
<ellipse cx="126.0" cy="330.6" rx="1.55" ry="1.72" fill="#000"/>
<ellipse cx="110.0" cy="327.6" rx="1.55" ry="1.72" fill="#000"/>
<ellipse cx="113.3" cy="328.9" rx="1.55" ry="1.72" fill="#000"/>
<ellipse cx="115.5" cy="329.8" rx="1.55" ry="1.72" fill="#000"/>
<ellipse cx="102.8" cy="332.8" rx="1.55" ry="1.72" fill="#000"/>
<ellipse cx="111.4" cy="333.9" rx="1.55" ry="1.72" fill="#000"/>
<ellipse cx="121.6" cy="334.5" rx="1.55" ry="1.72" fill="#000"/>
<ellipse cx="133.7" cy="289.0" rx="1.55" ry="1.72" fill="#000"/>
<ellipse cx="143.1" cy="291.4" rx="1.55" ry="1.72" fill="#000"/>
<ellipse cx="146.4" cy="292.9" rx="1.55" ry="1.72" fill="#000"/>
<ellipse cx="147.5" cy="297.3" rx="1.55" ry="1.72" fill="#000"/>
<ellipse cx="150.3" cy="297.3" rx="1.55" ry="1.72" fill="#000"/>
<ellipse cx="128.7" cy="299.2" rx="1.55" ry="1.72" fill="#000"/>
<ellipse cx="132.5" cy="298.8" rx="1.55" ry="1.72" fill="#000"/>
<ellipse cx="136.8" cy="299.9" rx="1.55" ry="1.72" fill="#000"/>
<ellipse cx="141.2" cy="300.4" rx="1.55" ry="1.72" fill="#000"/>
<ellipse cx="153.6" cy="304.3" rx="1.55" ry="1.72" fill="#000"/>
<ellipse cx="164.1" cy="305.4" rx="1.55" ry="1.72" fill="#000"/>
<ellipse cx="163.6" cy="309.8" rx="1.55" ry="1.72" fill="#000"/>
<ellipse cx="131.4" cy="304.5" rx="1.55" ry="1.72" fill="#000"/>
<ellipse cx="129.8" cy="307.3" rx="1.55" ry="1.72" fill="#000"/>
<ellipse cx="132.0" cy="308.1" rx="1.55" ry="1.72" fill="#000"/>
<ellipse cx="133.7" cy="309.5" rx="1.55" ry="1.72" fill="#000"/>
<ellipse cx="135.0" cy="312.1" rx="1.55" ry="1.72" fill="#000"/>
<ellipse cx="139.0" cy="310.6" rx="1.55" ry="1.72" fill="#000"/>
<ellipse cx="150.3" cy="311.0" rx="1.55" ry="1.72" fill="#000"/>
<ellipse cx="150.1" cy="313.9" rx="1.55" ry="1.72" fill="#000"/>
<ellipse cx="151.9" cy="315.1" rx="1.55" ry="1.72" fill="#000"/>
<ellipse cx="155.3" cy="313.2" rx="1.55" ry="1.72" fill="#000"/>
<ellipse cx="156.4" cy="314.3" rx="1.55" ry="1.72" fill="#000"/>
<ellipse cx="169.1" cy="312.3" rx="1.55" ry="1.72" fill="#000"/>
<ellipse cx="174.1" cy="310.1" rx="1.55" ry="1.72" fill="#000"/>
<ellipse cx="176.9" cy="306.7" rx="1.55" ry="1.72" fill="#000"/>
<ellipse cx="179.4" cy="302.0" rx="1.55" ry="1.72" fill="#000"/>
<ellipse cx="183.3" cy="293.7" rx="1.55" ry="1.72" fill="#000"/>
<ellipse cx="196.0" cy="298.1" rx="1.55" ry="1.72" fill="#000"/>
<ellipse cx="127.6" cy="318.0" rx="1.55" ry="1.72" fill="#000"/>
<ellipse cx="129.2" cy="318.0" rx="1.55" ry="1.72" fill="#000"/>
<ellipse cx="132.0" cy="318.0" rx="1.55" ry="1.72" fill="#000"/>
<ellipse cx="142.5" cy="320.3" rx="1.55" ry="1.72" fill="#000"/>
<ellipse cx="150.3" cy="317.8" rx="1.55" ry="1.72" fill="#000"/>
<ellipse cx="150.8" cy="319.8" rx="1.55" ry="1.72" fill="#000"/>
<ellipse cx="153.1" cy="318.4" rx="1.55" ry="1.72" fill="#000"/>
<ellipse cx="159.4" cy="318.4" rx="1.55" ry="1.72" fill="#000"/>
<ellipse cx="163.6" cy="317.6" rx="1.55" ry="1.72" fill="#000"/>
<ellipse cx="165.6" cy="317.6" rx="1.55" ry="1.72" fill="#000"/>
<ellipse cx="155.6" cy="322.5" rx="1.55" ry="1.72" fill="#000"/>
<ellipse cx="160.0" cy="324.5" rx="1.55" ry="1.72" fill="#000"/>
<ellipse cx="147.3" cy="325.6" rx="1.55" ry="1.72" fill="#000"/>
<ellipse cx="131.2" cy="324.3" rx="1.55" ry="1.72" fill="#000"/>
<ellipse cx="131.4" cy="326.7" rx="1.55" ry="1.72" fill="#000"/>
<ellipse cx="135.0" cy="325.8" rx="1.55" ry="1.72" fill="#000"/>
<ellipse cx="139.0" cy="323.4" rx="1.55" ry="1.72" fill="#000"/>
<ellipse cx="139.0" cy="326.1" rx="1.55" ry="1.72" fill="#000"/>
<ellipse cx="127.6" cy="328.0" rx="1.55" ry="1.72" fill="#000"/>
<ellipse cx="149.7" cy="329.5" rx="1.55" ry="1.72" fill="#000"/>
<ellipse cx="153.6" cy="328.4" rx="1.55" ry="1.72" fill="#000"/>
<ellipse cx="156.0" cy="327.6" rx="1.55" ry="1.72" fill="#000"/>
<ellipse cx="158.6" cy="327.8" rx="1.55" ry="1.72" fill="#000"/>
<ellipse cx="178.2" cy="328.4" rx="1.55" ry="1.72" fill="#000"/>
<ellipse cx="181.9" cy="321.7" rx="1.55" ry="1.72" fill="#000"/>
<ellipse cx="182.4" cy="323.4" rx="1.55" ry="1.72" fill="#000"/>
<ellipse cx="184.6" cy="318.4" rx="1.55" ry="1.72" fill="#000"/>
<ellipse cx="184.1" cy="330.2" rx="1.55" ry="1.72" fill="#000"/>
<ellipse cx="184.1" cy="334.7" rx="1.55" ry="1.72" fill="#000"/>
<ellipse cx="202.7" cy="322.0" rx="1.55" ry="1.72" fill="#000"/>
<ellipse cx="138.1" cy="331.1" rx="1.55" ry="1.72" fill="#000"/>
<ellipse cx="141.2" cy="331.4" rx="1.55" ry="1.72" fill="#000"/>
<ellipse cx="132.5" cy="333.9" rx="1.55" ry="1.72" fill="#000"/>
<ellipse cx="138.1" cy="334.5" rx="1.55" ry="1.72" fill="#000"/>
<ellipse cx="147.8" cy="333.9" rx="1.55" ry="1.72" fill="#000"/>
<ellipse cx="102.9" cy="338.3" rx="1.55" ry="1.72" fill="#000"/>
<ellipse cx="115.5" cy="337.3" rx="1.55" ry="1.72" fill="#000"/>
<ellipse cx="117.8" cy="340.1" rx="1.55" ry="1.72" fill="#000"/>
<ellipse cx="120.6" cy="337.3" rx="1.55" ry="1.72" fill="#000"/>
<ellipse cx="104.6" cy="346.7" rx="1.55" ry="1.72" fill="#000"/>
<ellipse cx="74.9" cy="356.8" rx="1.55" ry="1.72" fill="#000"/>
<ellipse cx="50.6" cy="361.3" rx="1.55" ry="1.72" fill="#000"/>
<ellipse cx="113.9" cy="355.5" rx="1.55" ry="1.72" fill="#000"/>
<ellipse cx="124.6" cy="356.8" rx="1.55" ry="1.72" fill="#000"/>
<ellipse cx="111.4" cy="370.7" rx="1.55" ry="1.72" fill="#000"/>
<ellipse cx="131.3" cy="345.4" rx="1.55" ry="1.72" fill="#000"/>
<ellipse cx="132.9" cy="347.2" rx="1.55" ry="1.72" fill="#000"/>
<ellipse cx="134.5" cy="345.8" rx="1.55" ry="1.72" fill="#000"/>
<ellipse cx="143.2" cy="344.7" rx="1.55" ry="1.72" fill="#000"/>
<ellipse cx="172.0" cy="342.4" rx="1.55" ry="1.72" fill="#000"/>
<ellipse cx="165.6" cy="351.1" rx="1.55" ry="1.72" fill="#000"/>
<line x1="44.5" y1="325" x2="209" y2="309.2" stroke="#000" stroke-width="1.4"/>
<circle cx="297.5" cy="283.6" r="1.7" fill="#000"/>
<circle cx="350.0" cy="276.5" r="1.7" fill="#000"/>
<circle cx="388.8" cy="244.3" r="1.7" fill="#000"/>
<circle cx="404.6" cy="283.8" r="1.7" fill="#000"/>
<circle cx="298.1" cy="295.7" r="1.7" fill="#000"/>
<circle cx="277.6" cy="316.5" r="1.7" fill="#000"/>
<circle cx="286.1" cy="314.7" r="1.7" fill="#000"/>
<circle cx="295.9" cy="313.6" r="1.7" fill="#000"/>
<circle cx="298.9" cy="314.3" r="1.7" fill="#000"/>
<circle cx="300.5" cy="320.2" r="1.7" fill="#000"/>
<circle cx="306.5" cy="310.1" r="1.7" fill="#000"/>
<circle cx="313.4" cy="305.2" r="1.7" fill="#000"/>
<circle cx="314.2" cy="307.4" r="1.7" fill="#000"/>
<circle cx="315.8" cy="309.3" r="1.7" fill="#000"/>
<circle cx="316.3" cy="312.5" r="1.7" fill="#000"/>
<circle cx="319.1" cy="306.6" r="1.7" fill="#000"/>
<circle cx="320.2" cy="309.3" r="1.7" fill="#000"/>
<circle cx="310.9" cy="320.5" r="1.7" fill="#000"/>
<circle cx="313.4" cy="326.0" r="1.7" fill="#000"/>
<circle cx="322.3" cy="317.2" r="1.7" fill="#000"/>
<circle cx="324.0" cy="299.2" r="1.7" fill="#000"/>
<circle cx="327.3" cy="305.8" r="1.7" fill="#000"/>
<circle cx="327.3" cy="314.0" r="1.7" fill="#000"/>
<circle cx="331.6" cy="313.2" r="1.7" fill="#000"/>
<circle cx="333.8" cy="314.0" r="1.7" fill="#000"/>
<circle cx="334.6" cy="296.3" r="1.7" fill="#000"/>
<circle cx="340.7" cy="294.3" r="1.7" fill="#000"/>
<circle cx="346.4" cy="290.2" r="1.7" fill="#000"/>
<circle cx="338.7" cy="305.2" r="1.7" fill="#000"/>
<circle cx="340.9" cy="305.5" r="1.7" fill="#000"/>
<circle cx="343.1" cy="306.3" r="1.7" fill="#000"/>
<circle cx="345.3" cy="306.9" r="1.7" fill="#000"/>
<circle cx="349.1" cy="305.2" r="1.7" fill="#000"/>
<circle cx="348.6" cy="309.6" r="1.7" fill="#000"/>
<circle cx="351.3" cy="313.2" r="1.7" fill="#000"/>
<circle cx="348.6" cy="316.5" r="1.7" fill="#000"/>
<circle cx="337.1" cy="315.8" r="1.7" fill="#000"/>
<circle cx="339.3" cy="315.4" r="1.7" fill="#000"/>
<circle cx="336.6" cy="320.5" r="1.7" fill="#000"/>
<circle cx="338.2" cy="321.1" r="1.7" fill="#000"/>
<circle cx="335.5" cy="323.8" r="1.7" fill="#000"/>
<circle cx="322.3" cy="324.3" r="1.7" fill="#000"/>
<circle cx="324.5" cy="323.8" r="1.7" fill="#000"/>
<circle cx="296.7" cy="326.7" r="1.7" fill="#000"/>
<circle cx="290.9" cy="328.9" r="1.7" fill="#000"/>
<circle cx="339.6" cy="326.5" r="1.7" fill="#000"/>
<circle cx="344.0" cy="325.6" r="1.7" fill="#000"/>
<circle cx="355.7" cy="316.7" r="1.7" fill="#000"/>
<circle cx="355.7" cy="324.9" r="1.7" fill="#000"/>
<circle cx="370.6" cy="288.1" r="1.7" fill="#000"/>
<circle cx="403.5" cy="290.3" r="1.7" fill="#000"/>
<circle cx="423.4" cy="289.2" r="1.7" fill="#000"/>
<circle cx="417.6" cy="293.3" r="1.7" fill="#000"/>
<circle cx="382.3" cy="295.2" r="1.7" fill="#000"/>
<circle cx="390.8" cy="294.4" r="1.7" fill="#000"/>
<circle cx="374.6" cy="298.6" r="1.7" fill="#000"/>
<circle cx="385.3" cy="301.0" r="1.7" fill="#000"/>
<circle cx="395.6" cy="300.5" r="1.7" fill="#000"/>
<circle cx="403.0" cy="304.0" r="1.7" fill="#000"/>
<circle cx="384.5" cy="305.4" r="1.7" fill="#000"/>
<circle cx="386.4" cy="305.8" r="1.7" fill="#000"/>
<circle cx="388.6" cy="304.9" r="1.7" fill="#000"/>
<circle cx="368.2" cy="306.2" r="1.7" fill="#000"/>
<circle cx="362.1" cy="305.8" r="1.7" fill="#000"/>
<circle cx="358.2" cy="307.7" r="1.7" fill="#000"/>
<circle cx="363.2" cy="307.7" r="1.7" fill="#000"/>
<circle cx="376.1" cy="308.4" r="1.7" fill="#000"/>
<circle cx="386.4" cy="309.9" r="1.7" fill="#000"/>
<circle cx="364.6" cy="311.5" r="1.7" fill="#000"/>
<circle cx="358.4" cy="314.0" r="1.7" fill="#000"/>
<circle cx="367.9" cy="313.5" r="1.7" fill="#000"/>
<circle cx="370.4" cy="314.6" r="1.7" fill="#000"/>
<circle cx="372.4" cy="315.7" r="1.7" fill="#000"/>
<circle cx="367.1" cy="316.5" r="1.7" fill="#000"/>
<circle cx="375.7" cy="317.3" r="1.7" fill="#000"/>
<circle cx="380.3" cy="313.5" r="1.7" fill="#000"/>
<circle cx="382.3" cy="315.9" r="1.7" fill="#000"/>
<circle cx="385.3" cy="313.5" r="1.7" fill="#000"/>
<circle cx="398.0" cy="315.9" r="1.7" fill="#000"/>
<circle cx="408.5" cy="317.1" r="1.7" fill="#000"/>
<circle cx="430.9" cy="312.9" r="1.7" fill="#000"/>
<circle cx="432.8" cy="313.5" r="1.7" fill="#000"/>
<circle cx="374.8" cy="321.3" r="1.7" fill="#000"/>
<circle cx="375.0" cy="323.7" r="1.7" fill="#000"/>
<circle cx="380.3" cy="320.6" r="1.7" fill="#000"/>
<circle cx="415.1" cy="320.9" r="1.7" fill="#000"/>
<circle cx="426.2" cy="320.6" r="1.7" fill="#000"/>
<circle cx="363.5" cy="324.2" r="1.7" fill="#000"/>
<circle cx="364.6" cy="325.3" r="1.7" fill="#000"/>
<circle cx="385.8" cy="324.8" r="1.7" fill="#000"/>
<circle cx="384.2" cy="326.1" r="1.7" fill="#000"/>
<circle cx="382.5" cy="327.9" r="1.7" fill="#000"/>
<circle cx="400.0" cy="326.1" r="1.7" fill="#000"/>
<circle cx="409.6" cy="325.3" r="1.7" fill="#000"/>
<circle cx="409.1" cy="329.0" r="1.7" fill="#000"/>
<circle cx="428.4" cy="329.2" r="1.7" fill="#000"/>
<circle cx="281.7" cy="334.5" r="1.7" fill="#000"/>
<circle cx="292.6" cy="336.2" r="1.7" fill="#000"/>
<circle cx="300.9" cy="331.9" r="1.7" fill="#000"/>
<circle cx="302.9" cy="331.6" r="1.7" fill="#000"/>
<circle cx="302.6" cy="339.3" r="1.7" fill="#000"/>
<circle cx="308.7" cy="338.5" r="1.7" fill="#000"/>
<circle cx="310.3" cy="336.8" r="1.7" fill="#000"/>
<circle cx="313.4" cy="334.5" r="1.7" fill="#000"/>
<circle cx="287.1" cy="346.3" r="1.7" fill="#000"/>
<circle cx="288.2" cy="347.4" r="1.7" fill="#000"/>
<circle cx="312.2" cy="347.4" r="1.7" fill="#000"/>
<circle cx="313.7" cy="344.5" r="1.7" fill="#000"/>
<circle cx="317.9" cy="345.2" r="1.7" fill="#000"/>
<circle cx="309.8" cy="354.8" r="1.7" fill="#000"/>
<circle cx="327.3" cy="338.0" r="1.7" fill="#000"/>
<circle cx="330.3" cy="340.4" r="1.7" fill="#000"/>
<circle cx="331.7" cy="340.8" r="1.7" fill="#000"/>
<circle cx="327.3" cy="355.4" r="1.7" fill="#000"/>
<circle cx="333.3" cy="331.6" r="1.7" fill="#000"/>
<circle cx="337.7" cy="331.2" r="1.7" fill="#000"/>
<circle cx="336.2" cy="335.2" r="1.7" fill="#000"/>
<circle cx="338.6" cy="336.0" r="1.7" fill="#000"/>
<circle cx="341.4" cy="335.7" r="1.7" fill="#000"/>
<circle cx="346.4" cy="335.7" r="1.7" fill="#000"/>
<circle cx="352.4" cy="336.3" r="1.7" fill="#000"/>
<circle cx="343.9" cy="340.4" r="1.7" fill="#000"/>
<circle cx="344.1" cy="345.2" r="1.7" fill="#000"/>
<circle cx="345.5" cy="344.5" r="1.7" fill="#000"/>
<circle cx="340.3" cy="347.6" r="1.7" fill="#000"/>
<circle cx="354.7" cy="350.1" r="1.7" fill="#000"/>
<circle cx="355.8" cy="333.2" r="1.7" fill="#000"/>
<circle cx="350.6" cy="367.8" r="1.7" fill="#000"/>
<circle cx="358.0" cy="336.8" r="1.7" fill="#000"/>
<circle cx="357.1" cy="339.0" r="1.7" fill="#000"/>
<circle cx="365.1" cy="331.6" r="1.7" fill="#000"/>
<circle cx="369.3" cy="331.6" r="1.7" fill="#000"/>
<circle cx="374.3" cy="334.3" r="1.7" fill="#000"/>
<circle cx="379.3" cy="333.4" r="1.7" fill="#000"/>
<circle cx="382.6" cy="333.8" r="1.7" fill="#000"/>
<circle cx="381.7" cy="331.6" r="1.7" fill="#000"/>
<circle cx="375.4" cy="337.9" r="1.7" fill="#000"/>
<circle cx="376.8" cy="337.4" r="1.7" fill="#000"/>
<circle cx="371.3" cy="343.2" r="1.7" fill="#000"/>
<circle cx="370.4" cy="347.6" r="1.7" fill="#000"/>
<circle cx="382.3" cy="347.6" r="1.7" fill="#000"/>
<circle cx="390.1" cy="343.2" r="1.7" fill="#000"/>
<circle cx="397.9" cy="342.1" r="1.7" fill="#000"/>
<circle cx="398.1" cy="343.4" r="1.7" fill="#000"/>
<circle cx="422.8" cy="347.1" r="1.7" fill="#000"/>
<circle cx="432.5" cy="344.5" r="1.7" fill="#000"/>
<circle cx="435.2" cy="345.6" r="1.7" fill="#000"/>
<circle cx="413.1" cy="352.9" r="1.7" fill="#000"/>
<circle cx="411.4" cy="360.1" r="1.7" fill="#000"/>
<circle cx="404.0" cy="372.6" r="1.7" fill="#000"/>
<line x1="271.25" y1="324.5" x2="441.25" y2="319.4" stroke="#000" stroke-width="1.4"/>
<circle cx="299.9" cy="53.7" r="1.7" fill="#000"/>
<circle cx="332.7" cy="56.9" r="1.7" fill="#000"/>
<circle cx="385.4" cy="21.1" r="1.7" fill="#000"/>
<circle cx="384.5" cy="31.7" r="1.7" fill="#000"/>
<circle cx="357.5" cy="47.4" r="1.7" fill="#000"/>
<circle cx="360.2" cy="53.0" r="1.7" fill="#000"/>
<circle cx="356.7" cy="56.8" r="1.7" fill="#000"/>
<circle cx="358.4" cy="58.1" r="1.7" fill="#000"/>
<circle cx="389.6" cy="53.7" r="1.7" fill="#000"/>
<circle cx="389.6" cy="58.4" r="1.7" fill="#000"/>
<circle cx="397.2" cy="57.4" r="1.7" fill="#000"/>
<circle cx="310.4" cy="60.5" r="1.7" fill="#000"/>
<circle cx="306.3" cy="63.3" r="1.7" fill="#000"/>
<circle cx="322.6" cy="63.6" r="1.7" fill="#000"/>
<circle cx="339.5" cy="61.8" r="1.7" fill="#000"/>
<circle cx="332.7" cy="66.3" r="1.7" fill="#000"/>
<circle cx="342.0" cy="68.6" r="1.7" fill="#000"/>
<circle cx="344.6" cy="66.1" r="1.7" fill="#000"/>
<circle cx="345.1" cy="70.2" r="1.7" fill="#000"/>
<circle cx="299.2" cy="75.0" r="1.7" fill="#000"/>
<circle cx="296.6" cy="78.5" r="1.7" fill="#000"/>
<circle cx="297.9" cy="82.1" r="1.7" fill="#000"/>
<circle cx="301.7" cy="80.1" r="1.7" fill="#000"/>
<circle cx="308.1" cy="78.1" r="1.7" fill="#000"/>
<circle cx="306.0" cy="83.3" r="1.7" fill="#000"/>
<circle cx="305.5" cy="85.2" r="1.7" fill="#000"/>
<circle cx="313.6" cy="77.3" r="1.7" fill="#000"/>
<circle cx="315.7" cy="71.2" r="1.7" fill="#000"/>
<circle cx="317.7" cy="71.0" r="1.7" fill="#000"/>
<circle cx="315.2" cy="74.0" r="1.7" fill="#000"/>
<circle cx="317.5" cy="77.1" r="1.7" fill="#000"/>
<circle cx="320.7" cy="74.4" r="1.7" fill="#000"/>
<circle cx="324.6" cy="74.4" r="1.7" fill="#000"/>
<circle cx="327.8" cy="73.2" r="1.7" fill="#000"/>
<circle cx="330.4" cy="72.0" r="1.7" fill="#000"/>
<circle cx="332.7" cy="71.0" r="1.7" fill="#000"/>
<circle cx="333.9" cy="72.2" r="1.7" fill="#000"/>
<circle cx="338.5" cy="71.7" r="1.7" fill="#000"/>
<circle cx="339.0" cy="72.7" r="1.7" fill="#000"/>
<circle cx="330.9" cy="77.5" r="1.7" fill="#000"/>
<circle cx="333.9" cy="76.8" r="1.7" fill="#000"/>
<circle cx="336.5" cy="77.3" r="1.7" fill="#000"/>
<circle cx="321.8" cy="78.3" r="1.7" fill="#000"/>
<circle cx="322.8" cy="80.5" r="1.7" fill="#000"/>
<circle cx="323.8" cy="83.1" r="1.7" fill="#000"/>
<circle cx="325.8" cy="84.4" r="1.7" fill="#000"/>
<circle cx="327.8" cy="83.3" r="1.7" fill="#000"/>
<circle cx="329.9" cy="84.9" r="1.7" fill="#000"/>
<circle cx="331.9" cy="86.4" r="1.7" fill="#000"/>
<circle cx="334.9" cy="85.4" r="1.7" fill="#000"/>
<circle cx="337.0" cy="83.3" r="1.7" fill="#000"/>
<circle cx="340.0" cy="81.3" r="1.7" fill="#000"/>
<circle cx="342.0" cy="79.3" r="1.7" fill="#000"/>
<circle cx="344.1" cy="78.3" r="1.7" fill="#000"/>
<circle cx="344.6" cy="83.3" r="1.7" fill="#000"/>
<circle cx="340.0" cy="84.4" r="1.7" fill="#000"/>
<circle cx="310.1" cy="88.4" r="1.7" fill="#000"/>
<circle cx="312.6" cy="87.2" r="1.7" fill="#000"/>
<circle cx="316.7" cy="87.9" r="1.7" fill="#000"/>
<circle cx="318.7" cy="89.4" r="1.7" fill="#000"/>
<circle cx="311.1" cy="91.5" r="1.7" fill="#000"/>
<circle cx="313.6" cy="94.0" r="1.7" fill="#000"/>
<circle cx="316.7" cy="95.5" r="1.7" fill="#000"/>
<circle cx="319.7" cy="98.6" r="1.7" fill="#000"/>
<circle cx="321.8" cy="92.5" r="1.7" fill="#000"/>
<circle cx="324.3" cy="90.4" r="1.7" fill="#000"/>
<circle cx="325.8" cy="93.5" r="1.7" fill="#000"/>
<circle cx="327.3" cy="87.4" r="1.7" fill="#000"/>
<circle cx="329.9" cy="89.4" r="1.7" fill="#000"/>
<circle cx="331.9" cy="91.5" r="1.7" fill="#000"/>
<circle cx="333.9" cy="89.4" r="1.7" fill="#000"/>
<circle cx="336.0" cy="92.5" r="1.7" fill="#000"/>
<circle cx="338.0" cy="90.4" r="1.7" fill="#000"/>
<circle cx="340.0" cy="88.4" r="1.7" fill="#000"/>
<circle cx="342.0" cy="93.5" r="1.7" fill="#000"/>
<circle cx="344.1" cy="89.4" r="1.7" fill="#000"/>
<circle cx="345.1" cy="95.5" r="1.7" fill="#000"/>
<circle cx="292.8" cy="94.5" r="1.7" fill="#000"/>
<circle cx="299.4" cy="95.0" r="1.7" fill="#000"/>
<circle cx="306.7" cy="94.5" r="1.7" fill="#000"/>
<circle cx="299.9" cy="100.1" r="1.7" fill="#000"/>
<circle cx="303.7" cy="98.8" r="1.7" fill="#000"/>
<circle cx="315.7" cy="100.6" r="1.7" fill="#000"/>
<circle cx="325.8" cy="98.6" r="1.7" fill="#000"/>
<circle cx="329.9" cy="97.6" r="1.7" fill="#000"/>
<circle cx="333.9" cy="100.1" r="1.7" fill="#000"/>
<circle cx="338.0" cy="99.6" r="1.7" fill="#000"/>
<circle cx="341.0" cy="97.6" r="1.7" fill="#000"/>
<circle cx="344.1" cy="100.6" r="1.7" fill="#000"/>
<circle cx="328.9" cy="101.6" r="1.7" fill="#000"/>
<circle cx="336.0" cy="96.5" r="1.7" fill="#000"/>
<circle cx="352.1" cy="61.2" r="1.7" fill="#000"/>
<circle cx="353.3" cy="60.8" r="1.7" fill="#000"/>
<circle cx="358.7" cy="59.3" r="1.7" fill="#000"/>
<circle cx="367.3" cy="62.2" r="1.7" fill="#000"/>
<circle cx="369.5" cy="62.6" r="1.7" fill="#000"/>
<circle cx="350.3" cy="65.6" r="1.7" fill="#000"/>
<circle cx="390.6" cy="60.0" r="1.7" fill="#000"/>
<circle cx="391.6" cy="63.3" r="1.7" fill="#000"/>
<circle cx="391.1" cy="61.8" r="1.7" fill="#000"/>
<circle cx="411.9" cy="64.3" r="1.7" fill="#000"/>
<circle cx="370.3" cy="67.1" r="1.7" fill="#000"/>
<circle cx="371.9" cy="68.1" r="1.7" fill="#000"/>
<circle cx="369.3" cy="69.1" r="1.7" fill="#000"/>
<circle cx="370.9" cy="70.7" r="1.7" fill="#000"/>
<circle cx="374.4" cy="70.0" r="1.7" fill="#000"/>
<circle cx="376.4" cy="70.7" r="1.7" fill="#000"/>
<circle cx="382.0" cy="72.0" r="1.7" fill="#000"/>
<circle cx="383.0" cy="71.7" r="1.7" fill="#000"/>
<circle cx="346.5" cy="70.7" r="1.7" fill="#000"/>
<circle cx="349.0" cy="72.2" r="1.7" fill="#000"/>
<circle cx="351.1" cy="73.2" r="1.7" fill="#000"/>
<circle cx="348.0" cy="75.7" r="1.7" fill="#000"/>
<circle cx="350.6" cy="76.8" r="1.7" fill="#000"/>
<circle cx="356.1" cy="73.7" r="1.7" fill="#000"/>
<circle cx="360.2" cy="73.0" r="1.7" fill="#000"/>
<circle cx="358.2" cy="75.2" r="1.7" fill="#000"/>
<circle cx="365.8" cy="73.2" r="1.7" fill="#000"/>
<circle cx="367.3" cy="75.2" r="1.7" fill="#000"/>
<circle cx="370.3" cy="75.7" r="1.7" fill="#000"/>
<circle cx="373.4" cy="76.8" r="1.7" fill="#000"/>
<circle cx="362.2" cy="77.8" r="1.7" fill="#000"/>
<circle cx="364.3" cy="78.3" r="1.7" fill="#000"/>
<circle cx="361.2" cy="80.3" r="1.7" fill="#000"/>
<circle cx="363.2" cy="80.5" r="1.7" fill="#000"/>
<circle cx="366.3" cy="79.8" r="1.7" fill="#000"/>
<circle cx="355.6" cy="79.8" r="1.7" fill="#000"/>
<circle cx="357.2" cy="80.3" r="1.7" fill="#000"/>
<circle cx="347.5" cy="79.3" r="1.7" fill="#000"/>
<circle cx="346.5" cy="83.3" r="1.7" fill="#000"/>
<circle cx="352.1" cy="84.4" r="1.7" fill="#000"/>
<circle cx="358.2" cy="83.3" r="1.7" fill="#000"/>
<circle cx="365.3" cy="83.3" r="1.7" fill="#000"/>
<circle cx="367.3" cy="84.6" r="1.7" fill="#000"/>
<circle cx="369.8" cy="85.4" r="1.7" fill="#000"/>
<circle cx="370.9" cy="87.9" r="1.7" fill="#000"/>
<circle cx="373.4" cy="85.9" r="1.7" fill="#000"/>
<circle cx="375.4" cy="82.8" r="1.7" fill="#000"/>
<circle cx="375.9" cy="83.9" r="1.7" fill="#000"/>
<circle cx="380.5" cy="81.1" r="1.7" fill="#000"/>
<circle cx="383.5" cy="83.3" r="1.7" fill="#000"/>
<circle cx="382.5" cy="86.4" r="1.7" fill="#000"/>
<circle cx="381.5" cy="88.9" r="1.7" fill="#000"/>
<circle cx="384.0" cy="88.4" r="1.7" fill="#000"/>
<circle cx="387.6" cy="86.9" r="1.7" fill="#000"/>
<circle cx="389.1" cy="78.1" r="1.7" fill="#000"/>
<circle cx="393.7" cy="78.8" r="1.7" fill="#000"/>
<circle cx="395.5" cy="75.4" r="1.7" fill="#000"/>
<circle cx="398.7" cy="77.5" r="1.7" fill="#000"/>
<circle cx="394.2" cy="83.3" r="1.7" fill="#000"/>
<circle cx="390.1" cy="90.4" r="1.7" fill="#000"/>
<circle cx="395.5" cy="91.5" r="1.7" fill="#000"/>
<circle cx="398.7" cy="89.9" r="1.7" fill="#000"/>
<circle cx="346.5" cy="88.4" r="1.7" fill="#000"/>
<circle cx="350.1" cy="89.4" r="1.7" fill="#000"/>
<circle cx="348.0" cy="91.5" r="1.7" fill="#000"/>
<circle cx="352.1" cy="92.5" r="1.7" fill="#000"/>
<circle cx="356.1" cy="91.5" r="1.7" fill="#000"/>
<circle cx="358.2" cy="93.5" r="1.7" fill="#000"/>
<circle cx="355.1" cy="94.5" r="1.7" fill="#000"/>
<circle cx="361.2" cy="89.4" r="1.7" fill="#000"/>
<circle cx="362.7" cy="94.0" r="1.7" fill="#000"/>
<circle cx="366.3" cy="92.5" r="1.7" fill="#000"/>
<circle cx="368.3" cy="93.5" r="1.7" fill="#000"/>
<circle cx="371.4" cy="92.5" r="1.7" fill="#000"/>
<circle cx="374.4" cy="92.5" r="1.7" fill="#000"/>
<circle cx="376.4" cy="92.0" r="1.7" fill="#000"/>
<circle cx="378.5" cy="92.5" r="1.7" fill="#000"/>
<circle cx="381.0" cy="93.5" r="1.7" fill="#000"/>
<circle cx="384.5" cy="95.0" r="1.7" fill="#000"/>
<circle cx="350.1" cy="96.5" r="1.7" fill="#000"/>
<circle cx="357.2" cy="97.0" r="1.7" fill="#000"/>
<circle cx="361.2" cy="97.5" r="1.7" fill="#000"/>
<circle cx="366.3" cy="97.5" r="1.7" fill="#000"/>
<circle cx="371.4" cy="98.1" r="1.7" fill="#000"/>
<circle cx="375.4" cy="97.5" r="1.7" fill="#000"/>
<circle cx="389.6" cy="98.1" r="1.7" fill="#000"/>
<circle cx="393.2" cy="97.0" r="1.7" fill="#000"/>
<circle cx="398.5" cy="96.3" r="1.7" fill="#000"/>
<circle cx="348.0" cy="100.6" r="1.7" fill="#000"/>
<circle cx="355.1" cy="100.4" r="1.7" fill="#000"/>
<circle cx="359.2" cy="101.1" r="1.7" fill="#000"/>
<circle cx="366.3" cy="100.6" r="1.7" fill="#000"/>
<circle cx="376.4" cy="101.6" r="1.7" fill="#000"/>
<circle cx="381.5" cy="101.6" r="1.7" fill="#000"/>
<circle cx="386.6" cy="101.1" r="1.7" fill="#000"/>
<circle cx="293.6" cy="106.3" r="1.7" fill="#000"/>
<circle cx="297.4" cy="111.9" r="1.7" fill="#000"/>
<circle cx="306.7" cy="105.0" r="1.7" fill="#000"/>
<circle cx="306.7" cy="110.9" r="1.7" fill="#000"/>
<circle cx="312.1" cy="105.0" r="1.7" fill="#000"/>
<circle cx="316.2" cy="104.5" r="1.7" fill="#000"/>
<circle cx="316.7" cy="102.5" r="1.7" fill="#000"/>
<circle cx="319.7" cy="103.0" r="1.7" fill="#000"/>
<circle cx="325.8" cy="102.5" r="1.7" fill="#000"/>
<circle cx="326.8" cy="105.0" r="1.7" fill="#000"/>
<circle cx="325.3" cy="109.1" r="1.7" fill="#000"/>
<circle cx="325.3" cy="111.6" r="1.7" fill="#000"/>
<circle cx="331.9" cy="107.6" r="1.7" fill="#000"/>
<circle cx="331.9" cy="112.1" r="1.7" fill="#000"/>
<circle cx="330.9" cy="103.5" r="1.7" fill="#000"/>
<circle cx="333.9" cy="104.0" r="1.7" fill="#000"/>
<circle cx="336.0" cy="107.6" r="1.7" fill="#000"/>
<circle cx="338.0" cy="106.6" r="1.7" fill="#000"/>
<circle cx="340.0" cy="105.6" r="1.7" fill="#000"/>
<circle cx="341.0" cy="103.0" r="1.7" fill="#000"/>
<circle cx="325.3" cy="118.2" r="1.7" fill="#000"/>
<circle cx="341.2" cy="117.0" r="1.7" fill="#000"/>
<circle cx="344.9" cy="119.0" r="1.7" fill="#000"/>
<circle cx="345.1" cy="108.1" r="1.7" fill="#000"/>
<circle cx="345.1" cy="110.6" r="1.7" fill="#000"/>
<circle cx="340.5" cy="122.8" r="1.7" fill="#000"/>
<circle cx="338.5" cy="126.3" r="1.7" fill="#000"/>
<circle cx="342.2" cy="126.9" r="1.7" fill="#000"/>
<circle cx="338.0" cy="139.5" r="1.7" fill="#000"/>
<circle cx="297.9" cy="127.9" r="1.7" fill="#000"/>
<circle cx="274.6" cy="131.6" r="1.7" fill="#000"/>
<circle cx="347.0" cy="104.0" r="1.7" fill="#000"/>
<circle cx="347.5" cy="106.1" r="1.7" fill="#000"/>
<circle cx="353.1" cy="108.6" r="1.7" fill="#000"/>
<circle cx="352.1" cy="109.6" r="1.7" fill="#000"/>
<circle cx="355.6" cy="103.5" r="1.7" fill="#000"/>
<circle cx="357.2" cy="102.5" r="1.7" fill="#000"/>
<circle cx="359.2" cy="103.0" r="1.7" fill="#000"/>
<circle cx="363.8" cy="105.0" r="1.7" fill="#000"/>
<circle cx="364.8" cy="104.0" r="1.7" fill="#000"/>
<circle cx="366.8" cy="102.5" r="1.7" fill="#000"/>
<circle cx="373.4" cy="105.0" r="1.7" fill="#000"/>
<circle cx="374.4" cy="103.0" r="1.7" fill="#000"/>
<circle cx="380.5" cy="104.0" r="1.7" fill="#000"/>
<circle cx="381.5" cy="102.5" r="1.7" fill="#000"/>
<circle cx="386.6" cy="102.5" r="1.7" fill="#000"/>
<circle cx="391.6" cy="103.5" r="1.7" fill="#000"/>
<circle cx="390.6" cy="107.1" r="1.7" fill="#000"/>
<circle cx="382.7" cy="110.1" r="1.7" fill="#000"/>
<circle cx="386.1" cy="114.7" r="1.7" fill="#000"/>
<circle cx="377.6" cy="116.4" r="1.7" fill="#000"/>
<circle cx="349.2" cy="117.7" r="1.7" fill="#000"/>
<circle cx="346.5" cy="118.7" r="1.7" fill="#000"/>
<circle cx="397.2" cy="122.8" r="1.7" fill="#000"/>
<circle cx="380.7" cy="126.3" r="1.7" fill="#000"/>
<circle cx="414.0" cy="104.0" r="1.7" fill="#000"/>
<circle cx="416.0" cy="104.5" r="1.7" fill="#000"/>
<circle cx="416.8" cy="109.1" r="1.7" fill="#000"/>
<circle cx="323.3" cy="95.8" r="1.7" fill="#000"/>
<circle cx="327.4" cy="95.8" r="1.7" fill="#000"/>
<circle cx="328.6" cy="91.7" r="1.7" fill="#000"/>
<circle cx="333.3" cy="93.4" r="1.7" fill="#000"/>
<circle cx="337.4" cy="94.6" r="1.7" fill="#000"/>
<circle cx="330.4" cy="94.0" r="1.7" fill="#000"/>
<circle cx="340.4" cy="95.2" r="1.7" fill="#000"/>
<circle cx="343.3" cy="96.4" r="1.7" fill="#000"/>
<circle cx="339.2" cy="101.7" r="1.7" fill="#000"/>
<circle cx="329.8" cy="106.4" r="1.7" fill="#000"/>
<circle cx="327.4" cy="108.2" r="1.7" fill="#000"/>
<circle cx="338.0" cy="104.6" r="1.7" fill="#000"/>
<circle cx="334.5" cy="108.8" r="1.7" fill="#000"/>
<circle cx="334.5" cy="85.8" r="1.7" fill="#000"/>
<circle cx="336.9" cy="87.5" r="1.7" fill="#000"/>
<circle cx="347.4" cy="85.8" r="1.7" fill="#000"/>
<circle cx="350.3" cy="86.4" r="1.7" fill="#000"/>
<circle cx="352.7" cy="88.1" r="1.7" fill="#000"/>
<circle cx="346.8" cy="89.9" r="1.7" fill="#000"/>
<circle cx="359.2" cy="95.8" r="1.7" fill="#000"/>
<circle cx="353.8" cy="92.8" r="1.7" fill="#000"/>
<circle cx="358.6" cy="98.7" r="1.7" fill="#000"/>
<circle cx="346.2" cy="98.7" r="1.7" fill="#000"/>
<circle cx="351.5" cy="95.8" r="1.7" fill="#000"/>
<circle cx="356.8" cy="106.4" r="1.7" fill="#000"/>
<circle cx="359.2" cy="104.1" r="1.7" fill="#000"/>
<circle cx="353.3" cy="102.9" r="1.7" fill="#000"/>
<circle cx="356.5" cy="77.5" r="1.7" fill="#000"/>
<circle cx="357.5" cy="81.5" r="1.7" fill="#000"/>
<circle cx="370.0" cy="71.0" r="1.7" fill="#000"/>
<circle cx="375.0" cy="71.5" r="1.7" fill="#000"/>
<circle cx="362.0" cy="76.0" r="1.7" fill="#000"/>
<circle cx="366.0" cy="79.0" r="1.7" fill="#000"/>
<line x1="269" y1="95.2" x2="423" y2="83.0" stroke="#000" stroke-width="1.4"/>
<ellipse cx="535.3" cy="34.1" rx="1.55" ry="1.72" fill="#000"/>
<ellipse cx="507.0" cy="55.3" rx="1.55" ry="1.72" fill="#000"/>
<ellipse cx="542.9" cy="60.7" rx="1.55" ry="1.72" fill="#000"/>
<ellipse cx="560.3" cy="60.2" rx="1.55" ry="1.72" fill="#000"/>
<ellipse cx="602.8" cy="23.5" rx="1.55" ry="1.72" fill="#000"/>
<ellipse cx="588.2" cy="49.5" rx="1.55" ry="1.72" fill="#000"/>
<ellipse cx="596.5" cy="55.3" rx="1.55" ry="1.72" fill="#000"/>
<ellipse cx="632.6" cy="47.7" rx="1.55" ry="1.72" fill="#000"/>
<ellipse cx="644.4" cy="55.3" rx="1.55" ry="1.72" fill="#000"/>
<ellipse cx="573.3" cy="60.2" rx="1.55" ry="1.72" fill="#000"/>
<ellipse cx="578.5" cy="59.4" rx="1.55" ry="1.72" fill="#000"/>
<ellipse cx="587.7" cy="59.1" rx="1.55" ry="1.72" fill="#000"/>
<ellipse cx="592.7" cy="59.1" rx="1.55" ry="1.72" fill="#000"/>
<ellipse cx="496.5" cy="83.7" rx="1.55" ry="1.72" fill="#000"/>
<ellipse cx="506.4" cy="82.7" rx="1.55" ry="1.72" fill="#000"/>
<ellipse cx="510.8" cy="76.6" rx="1.55" ry="1.72" fill="#000"/>
<ellipse cx="514.5" cy="69.1" rx="1.55" ry="1.72" fill="#000"/>
<ellipse cx="520.7" cy="68.5" rx="1.55" ry="1.72" fill="#000"/>
<ellipse cx="518.1" cy="86.0" rx="1.55" ry="1.72" fill="#000"/>
<ellipse cx="517.6" cy="87.5" rx="1.55" ry="1.72" fill="#000"/>
<ellipse cx="515.0" cy="92.0" rx="1.55" ry="1.72" fill="#000"/>
<ellipse cx="516.0" cy="95.6" rx="1.55" ry="1.72" fill="#000"/>
<ellipse cx="519.2" cy="95.6" rx="1.55" ry="1.72" fill="#000"/>
<ellipse cx="499.4" cy="98.0" rx="1.55" ry="1.72" fill="#000"/>
<ellipse cx="525.4" cy="94.8" rx="1.55" ry="1.72" fill="#000"/>
<ellipse cx="526.2" cy="95.6" rx="1.55" ry="1.72" fill="#000"/>
<ellipse cx="526.4" cy="79.5" rx="1.55" ry="1.72" fill="#000"/>
<ellipse cx="529.4" cy="82.3" rx="1.55" ry="1.72" fill="#000"/>
<ellipse cx="530.1" cy="83.4" rx="1.55" ry="1.72" fill="#000"/>
<ellipse cx="531.6" cy="86.0" rx="1.55" ry="1.72" fill="#000"/>
<ellipse cx="532.2" cy="88.1" rx="1.55" ry="1.72" fill="#000"/>
<ellipse cx="528.0" cy="90.2" rx="1.55" ry="1.72" fill="#000"/>
<ellipse cx="534.8" cy="64.3" rx="1.55" ry="1.72" fill="#000"/>
<ellipse cx="535.8" cy="68.3" rx="1.55" ry="1.72" fill="#000"/>
<ellipse cx="538.4" cy="69.5" rx="1.55" ry="1.72" fill="#000"/>
<ellipse cx="540.5" cy="65.0" rx="1.55" ry="1.72" fill="#000"/>
<ellipse cx="543.6" cy="61.5" rx="1.55" ry="1.72" fill="#000"/>
<ellipse cx="546.2" cy="63.1" rx="1.55" ry="1.72" fill="#000"/>
<ellipse cx="534.8" cy="76.1" rx="1.55" ry="1.72" fill="#000"/>
<ellipse cx="536.3" cy="77.1" rx="1.55" ry="1.72" fill="#000"/>
<ellipse cx="537.4" cy="80.8" rx="1.55" ry="1.72" fill="#000"/>
<ellipse cx="536.3" cy="82.9" rx="1.55" ry="1.72" fill="#000"/>
<ellipse cx="535.8" cy="85.5" rx="1.55" ry="1.72" fill="#000"/>
<ellipse cx="539.8" cy="75.6" rx="1.55" ry="1.72" fill="#000"/>
<ellipse cx="543.1" cy="73.5" rx="1.55" ry="1.72" fill="#000"/>
<ellipse cx="546.7" cy="73.5" rx="1.55" ry="1.72" fill="#000"/>
<ellipse cx="548.8" cy="74.5" rx="1.55" ry="1.72" fill="#000"/>
<ellipse cx="550.4" cy="73.5" rx="1.55" ry="1.72" fill="#000"/>
<ellipse cx="551.9" cy="73.5" rx="1.55" ry="1.72" fill="#000"/>
<ellipse cx="548.3" cy="76.1" rx="1.55" ry="1.72" fill="#000"/>
<ellipse cx="554.5" cy="75.6" rx="1.55" ry="1.72" fill="#000"/>
<ellipse cx="556.6" cy="76.1" rx="1.55" ry="1.72" fill="#000"/>
<ellipse cx="557.7" cy="71.9" rx="1.55" ry="1.72" fill="#000"/>
<ellipse cx="559.2" cy="78.2" rx="1.55" ry="1.72" fill="#000"/>
<ellipse cx="560.3" cy="61.5" rx="1.55" ry="1.72" fill="#000"/>
<ellipse cx="564.4" cy="65.4" rx="1.55" ry="1.72" fill="#000"/>
<ellipse cx="570.2" cy="65.7" rx="1.55" ry="1.72" fill="#000"/>
<ellipse cx="570.2" cy="70.9" rx="1.55" ry="1.72" fill="#000"/>
<ellipse cx="570.2" cy="73.0" rx="1.55" ry="1.72" fill="#000"/>
<ellipse cx="563.9" cy="74.0" rx="1.55" ry="1.72" fill="#000"/>
<ellipse cx="566.0" cy="74.5" rx="1.55" ry="1.72" fill="#000"/>
<ellipse cx="567.6" cy="74.0" rx="1.55" ry="1.72" fill="#000"/>
<ellipse cx="567.0" cy="78.2" rx="1.55" ry="1.72" fill="#000"/>
<ellipse cx="567.6" cy="81.8" rx="1.55" ry="1.72" fill="#000"/>
<ellipse cx="569.1" cy="83.4" rx="1.55" ry="1.72" fill="#000"/>
<ellipse cx="543.1" cy="80.8" rx="1.55" ry="1.72" fill="#000"/>
<ellipse cx="544.7" cy="79.7" rx="1.55" ry="1.72" fill="#000"/>
<ellipse cx="546.7" cy="79.7" rx="1.55" ry="1.72" fill="#000"/>
<ellipse cx="542.1" cy="86.0" rx="1.55" ry="1.72" fill="#000"/>
<ellipse cx="544.1" cy="86.5" rx="1.55" ry="1.72" fill="#000"/>
<ellipse cx="542.6" cy="88.6" rx="1.55" ry="1.72" fill="#000"/>
<ellipse cx="549.9" cy="81.3" rx="1.55" ry="1.72" fill="#000"/>
<ellipse cx="551.4" cy="82.9" rx="1.55" ry="1.72" fill="#000"/>
<ellipse cx="549.3" cy="86.5" rx="1.55" ry="1.72" fill="#000"/>
<ellipse cx="548.8" cy="89.1" rx="1.55" ry="1.72" fill="#000"/>
<ellipse cx="560.8" cy="83.4" rx="1.55" ry="1.72" fill="#000"/>
<ellipse cx="559.8" cy="86.0" rx="1.55" ry="1.72" fill="#000"/>
<ellipse cx="559.2" cy="88.6" rx="1.55" ry="1.72" fill="#000"/>
<ellipse cx="561.8" cy="90.2" rx="1.55" ry="1.72" fill="#000"/>
<ellipse cx="565.0" cy="90.7" rx="1.55" ry="1.72" fill="#000"/>
<ellipse cx="567.6" cy="88.6" rx="1.55" ry="1.72" fill="#000"/>
<ellipse cx="562.9" cy="92.2" rx="1.55" ry="1.72" fill="#000"/>
<ellipse cx="565.5" cy="92.2" rx="1.55" ry="1.72" fill="#000"/>
<ellipse cx="535.8" cy="94.1" rx="1.55" ry="1.72" fill="#000"/>
<ellipse cx="537.9" cy="94.1" rx="1.55" ry="1.72" fill="#000"/>
<ellipse cx="543.6" cy="92.2" rx="1.55" ry="1.72" fill="#000"/>
<ellipse cx="545.2" cy="93.8" rx="1.55" ry="1.72" fill="#000"/>
<ellipse cx="546.7" cy="94.8" rx="1.55" ry="1.72" fill="#000"/>
<ellipse cx="549.3" cy="96.4" rx="1.55" ry="1.72" fill="#000"/>
<ellipse cx="548.8" cy="98.0" rx="1.55" ry="1.72" fill="#000"/>
<ellipse cx="553.5" cy="96.9" rx="1.55" ry="1.72" fill="#000"/>
<ellipse cx="555.6" cy="97.4" rx="1.55" ry="1.72" fill="#000"/>
<ellipse cx="557.7" cy="98.0" rx="1.55" ry="1.72" fill="#000"/>
<ellipse cx="559.8" cy="96.4" rx="1.55" ry="1.72" fill="#000"/>
<ellipse cx="561.8" cy="94.3" rx="1.55" ry="1.72" fill="#000"/>
<ellipse cx="565.0" cy="95.4" rx="1.55" ry="1.72" fill="#000"/>
<ellipse cx="567.6" cy="95.4" rx="1.55" ry="1.72" fill="#000"/>
<ellipse cx="570.2" cy="92.2" rx="1.55" ry="1.72" fill="#000"/>
<ellipse cx="536.9" cy="98.5" rx="1.55" ry="1.72" fill="#000"/>
<ellipse cx="542.6" cy="98.5" rx="1.55" ry="1.72" fill="#000"/>
<ellipse cx="534.2" cy="100.6" rx="1.55" ry="1.72" fill="#000"/>
<ellipse cx="533.7" cy="102.1" rx="1.55" ry="1.72" fill="#000"/>
<ellipse cx="531.1" cy="102.6" rx="1.55" ry="1.72" fill="#000"/>
<ellipse cx="528.5" cy="103.7" rx="1.55" ry="1.72" fill="#000"/>
<ellipse cx="542.1" cy="103.2" rx="1.55" ry="1.72" fill="#000"/>
<ellipse cx="552.5" cy="100.6" rx="1.55" ry="1.72" fill="#000"/>
<ellipse cx="555.6" cy="102.1" rx="1.55" ry="1.72" fill="#000"/>
<ellipse cx="560.8" cy="100.0" rx="1.55" ry="1.72" fill="#000"/>
<ellipse cx="561.8" cy="102.6" rx="1.55" ry="1.72" fill="#000"/>
<ellipse cx="565.0" cy="100.6" rx="1.55" ry="1.72" fill="#000"/>
<ellipse cx="567.0" cy="102.6" rx="1.55" ry="1.72" fill="#000"/>
<ellipse cx="569.6" cy="99.5" rx="1.55" ry="1.72" fill="#000"/>
<ellipse cx="551.9" cy="102.1" rx="1.55" ry="1.72" fill="#000"/>
<ellipse cx="571.5" cy="65.2" rx="1.55" ry="1.72" fill="#000"/>
<ellipse cx="573.6" cy="61.5" rx="1.55" ry="1.72" fill="#000"/>
<ellipse cx="581.4" cy="63.6" rx="1.55" ry="1.72" fill="#000"/>
<ellipse cx="584.5" cy="67.2" rx="1.55" ry="1.72" fill="#000"/>
<ellipse cx="589.2" cy="66.7" rx="1.55" ry="1.72" fill="#000"/>
<ellipse cx="594.4" cy="64.3" rx="1.55" ry="1.72" fill="#000"/>
<ellipse cx="596.0" cy="64.3" rx="1.55" ry="1.72" fill="#000"/>
<ellipse cx="616.3" cy="63.1" rx="1.55" ry="1.72" fill="#000"/>
<ellipse cx="619.4" cy="68.5" rx="1.55" ry="1.72" fill="#000"/>
<ellipse cx="643.4" cy="68.8" rx="1.55" ry="1.72" fill="#000"/>
<ellipse cx="641.8" cy="72.7" rx="1.55" ry="1.72" fill="#000"/>
<ellipse cx="578.5" cy="69.3" rx="1.55" ry="1.72" fill="#000"/>
<ellipse cx="577.2" cy="71.4" rx="1.55" ry="1.72" fill="#000"/>
<ellipse cx="574.6" cy="72.5" rx="1.55" ry="1.72" fill="#000"/>
<ellipse cx="572.0" cy="73.5" rx="1.55" ry="1.72" fill="#000"/>
<ellipse cx="579.3" cy="75.6" rx="1.55" ry="1.72" fill="#000"/>
<ellipse cx="584.0" cy="72.5" rx="1.55" ry="1.72" fill="#000"/>
<ellipse cx="585.6" cy="73.0" rx="1.55" ry="1.72" fill="#000"/>
<ellipse cx="587.1" cy="74.0" rx="1.55" ry="1.72" fill="#000"/>
<ellipse cx="590.3" cy="76.6" rx="1.55" ry="1.72" fill="#000"/>
<ellipse cx="593.4" cy="75.6" rx="1.55" ry="1.72" fill="#000"/>
<ellipse cx="594.9" cy="77.1" rx="1.55" ry="1.72" fill="#000"/>
<ellipse cx="598.1" cy="78.2" rx="1.55" ry="1.72" fill="#000"/>
<ellipse cx="601.2" cy="79.2" rx="1.55" ry="1.72" fill="#000"/>
<ellipse cx="603.3" cy="74.5" rx="1.55" ry="1.72" fill="#000"/>
<ellipse cx="607.4" cy="73.0" rx="1.55" ry="1.72" fill="#000"/>
<ellipse cx="608.7" cy="72.5" rx="1.55" ry="1.72" fill="#000"/>
<ellipse cx="612.6" cy="73.5" rx="1.55" ry="1.72" fill="#000"/>
<ellipse cx="617.6" cy="73.7" rx="1.55" ry="1.72" fill="#000"/>
<ellipse cx="614.2" cy="77.1" rx="1.55" ry="1.72" fill="#000"/>
<ellipse cx="573.1" cy="79.2" rx="1.55" ry="1.72" fill="#000"/>
<ellipse cx="576.2" cy="80.8" rx="1.55" ry="1.72" fill="#000"/>
<ellipse cx="578.8" cy="80.3" rx="1.55" ry="1.72" fill="#000"/>
<ellipse cx="581.4" cy="79.7" rx="1.55" ry="1.72" fill="#000"/>
<ellipse cx="583.0" cy="81.3" rx="1.55" ry="1.72" fill="#000"/>
<ellipse cx="587.7" cy="79.7" rx="1.55" ry="1.72" fill="#000"/>
<ellipse cx="587.7" cy="81.3" rx="1.55" ry="1.72" fill="#000"/>
<ellipse cx="591.8" cy="79.2" rx="1.55" ry="1.72" fill="#000"/>
<ellipse cx="592.3" cy="81.3" rx="1.55" ry="1.72" fill="#000"/>
<ellipse cx="595.5" cy="79.7" rx="1.55" ry="1.72" fill="#000"/>
<ellipse cx="600.2" cy="81.3" rx="1.55" ry="1.72" fill="#000"/>
<ellipse cx="600.7" cy="83.4" rx="1.55" ry="1.72" fill="#000"/>
<ellipse cx="602.2" cy="84.9" rx="1.55" ry="1.72" fill="#000"/>
<ellipse cx="608.5" cy="79.7" rx="1.55" ry="1.72" fill="#000"/>
<ellipse cx="610.4" cy="79.5" rx="1.55" ry="1.72" fill="#000"/>
<ellipse cx="611.1" cy="80.8" rx="1.55" ry="1.72" fill="#000"/>
<ellipse cx="608.5" cy="82.9" rx="1.55" ry="1.72" fill="#000"/>
<ellipse cx="621.5" cy="79.7" rx="1.55" ry="1.72" fill="#000"/>
<ellipse cx="629.1" cy="78.5" rx="1.55" ry="1.72" fill="#000"/>
<ellipse cx="619.1" cy="82.9" rx="1.55" ry="1.72" fill="#000"/>
<ellipse cx="627.7" cy="84.4" rx="1.55" ry="1.72" fill="#000"/>
<ellipse cx="571.5" cy="86.0" rx="1.55" ry="1.72" fill="#000"/>
<ellipse cx="574.1" cy="86.0" rx="1.55" ry="1.72" fill="#000"/>
<ellipse cx="575.7" cy="87.5" rx="1.55" ry="1.72" fill="#000"/>
<ellipse cx="580.9" cy="85.5" rx="1.55" ry="1.72" fill="#000"/>
<ellipse cx="583.5" cy="86.0" rx="1.55" ry="1.72" fill="#000"/>
<ellipse cx="586.6" cy="87.0" rx="1.55" ry="1.72" fill="#000"/>
<ellipse cx="589.7" cy="87.5" rx="1.55" ry="1.72" fill="#000"/>
<ellipse cx="594.9" cy="85.5" rx="1.55" ry="1.72" fill="#000"/>
<ellipse cx="596.5" cy="87.0" rx="1.55" ry="1.72" fill="#000"/>
<ellipse cx="599.1" cy="88.6" rx="1.55" ry="1.72" fill="#000"/>
<ellipse cx="607.4" cy="88.1" rx="1.55" ry="1.72" fill="#000"/>
<ellipse cx="610.0" cy="88.3" rx="1.55" ry="1.72" fill="#000"/>
<ellipse cx="618.4" cy="88.3" rx="1.55" ry="1.72" fill="#000"/>
<ellipse cx="572.6" cy="90.2" rx="1.55" ry="1.72" fill="#000"/>
<ellipse cx="576.7" cy="90.2" rx="1.55" ry="1.72" fill="#000"/>
<ellipse cx="579.3" cy="89.1" rx="1.55" ry="1.72" fill="#000"/>
<ellipse cx="582.5" cy="88.6" rx="1.55" ry="1.72" fill="#000"/>
<ellipse cx="585.6" cy="89.6" rx="1.55" ry="1.72" fill="#000"/>
<ellipse cx="591.8" cy="90.2" rx="1.55" ry="1.72" fill="#000"/>
<ellipse cx="594.9" cy="90.7" rx="1.55" ry="1.72" fill="#000"/>
<ellipse cx="598.1" cy="90.2" rx="1.55" ry="1.72" fill="#000"/>
<ellipse cx="571.0" cy="92.8" rx="1.55" ry="1.72" fill="#000"/>
<ellipse cx="574.1" cy="92.2" rx="1.55" ry="1.72" fill="#000"/>
<ellipse cx="576.2" cy="94.3" rx="1.55" ry="1.72" fill="#000"/>
<ellipse cx="580.4" cy="93.8" rx="1.55" ry="1.72" fill="#000"/>
<ellipse cx="582.5" cy="94.3" rx="1.55" ry="1.72" fill="#000"/>
<ellipse cx="585.6" cy="94.8" rx="1.55" ry="1.72" fill="#000"/>
<ellipse cx="588.7" cy="93.3" rx="1.55" ry="1.72" fill="#000"/>
<ellipse cx="591.8" cy="92.2" rx="1.55" ry="1.72" fill="#000"/>
<ellipse cx="594.9" cy="93.3" rx="1.55" ry="1.72" fill="#000"/>
<ellipse cx="598.1" cy="94.3" rx="1.55" ry="1.72" fill="#000"/>
<ellipse cx="602.2" cy="94.3" rx="1.55" ry="1.72" fill="#000"/>
<ellipse cx="606.4" cy="91.2" rx="1.55" ry="1.72" fill="#000"/>
<ellipse cx="608.5" cy="92.2" rx="1.55" ry="1.72" fill="#000"/>
<ellipse cx="611.6" cy="93.3" rx="1.55" ry="1.72" fill="#000"/>
<ellipse cx="573.1" cy="96.9" rx="1.55" ry="1.72" fill="#000"/>
<ellipse cx="577.2" cy="96.4" rx="1.55" ry="1.72" fill="#000"/>
<ellipse cx="581.4" cy="96.9" rx="1.55" ry="1.72" fill="#000"/>
<ellipse cx="584.5" cy="97.4" rx="1.55" ry="1.72" fill="#000"/>
<ellipse cx="587.7" cy="98.0" rx="1.55" ry="1.72" fill="#000"/>
<ellipse cx="591.8" cy="96.4" rx="1.55" ry="1.72" fill="#000"/>
<ellipse cx="596.0" cy="97.4" rx="1.55" ry="1.72" fill="#000"/>
<ellipse cx="601.2" cy="96.4" rx="1.55" ry="1.72" fill="#000"/>
<ellipse cx="606.9" cy="97.4" rx="1.55" ry="1.72" fill="#000"/>
<ellipse cx="610.0" cy="97.6" rx="1.55" ry="1.72" fill="#000"/>
<ellipse cx="619.1" cy="95.1" rx="1.55" ry="1.72" fill="#000"/>
<ellipse cx="627.2" cy="95.4" rx="1.55" ry="1.72" fill="#000"/>
<ellipse cx="572.0" cy="100.6" rx="1.55" ry="1.72" fill="#000"/>
<ellipse cx="576.2" cy="100.0" rx="1.55" ry="1.72" fill="#000"/>
<ellipse cx="579.3" cy="101.1" rx="1.55" ry="1.72" fill="#000"/>
<ellipse cx="583.5" cy="99.5" rx="1.55" ry="1.72" fill="#000"/>
<ellipse cx="586.6" cy="101.6" rx="1.55" ry="1.72" fill="#000"/>
<ellipse cx="590.8" cy="100.6" rx="1.55" ry="1.72" fill="#000"/>
<ellipse cx="593.9" cy="101.1" rx="1.55" ry="1.72" fill="#000"/>
<ellipse cx="598.1" cy="101.1" rx="1.55" ry="1.72" fill="#000"/>
<ellipse cx="617.6" cy="100.4" rx="1.55" ry="1.72" fill="#000"/>
<ellipse cx="624.9" cy="99.7" rx="1.55" ry="1.72" fill="#000"/>
<ellipse cx="609.5" cy="103.2" rx="1.55" ry="1.72" fill="#000"/>
<ellipse cx="581.4" cy="103.2" rx="1.55" ry="1.72" fill="#000"/>
<ellipse cx="591.8" cy="103.2" rx="1.55" ry="1.72" fill="#000"/>
<ellipse cx="518.6" cy="108.2" rx="1.55" ry="1.72" fill="#000"/>
<ellipse cx="522.5" cy="107.6" rx="1.55" ry="1.72" fill="#000"/>
<ellipse cx="523.1" cy="111.8" rx="1.55" ry="1.72" fill="#000"/>
<ellipse cx="523.8" cy="113.9" rx="1.55" ry="1.72" fill="#000"/>
<ellipse cx="525.4" cy="119.4" rx="1.55" ry="1.72" fill="#000"/>
<ellipse cx="528.7" cy="104.8" rx="1.55" ry="1.72" fill="#000"/>
<ellipse cx="532.2" cy="111.8" rx="1.55" ry="1.72" fill="#000"/>
<ellipse cx="535.5" cy="114.4" rx="1.55" ry="1.72" fill="#000"/>
<ellipse cx="537.4" cy="105.0" rx="1.55" ry="1.72" fill="#000"/>
<ellipse cx="537.9" cy="106.6" rx="1.55" ry="1.72" fill="#000"/>
<ellipse cx="540.0" cy="107.1" rx="1.55" ry="1.72" fill="#000"/>
<ellipse cx="540.5" cy="108.7" rx="1.55" ry="1.72" fill="#000"/>
<ellipse cx="542.1" cy="104.5" rx="1.55" ry="1.72" fill="#000"/>
<ellipse cx="550.4" cy="106.9" rx="1.55" ry="1.72" fill="#000"/>
<ellipse cx="552.5" cy="109.4" rx="1.55" ry="1.72" fill="#000"/>
<ellipse cx="551.2" cy="113.6" rx="1.55" ry="1.72" fill="#000"/>
<ellipse cx="554.5" cy="104.5" rx="1.55" ry="1.72" fill="#000"/>
<ellipse cx="557.7" cy="105.6" rx="1.55" ry="1.72" fill="#000"/>
<ellipse cx="560.8" cy="104.5" rx="1.55" ry="1.72" fill="#000"/>
<ellipse cx="563.4" cy="104.5" rx="1.55" ry="1.72" fill="#000"/>
<ellipse cx="565.0" cy="107.1" rx="1.55" ry="1.72" fill="#000"/>
<ellipse cx="562.9" cy="109.7" rx="1.55" ry="1.72" fill="#000"/>
<ellipse cx="564.4" cy="111.8" rx="1.55" ry="1.72" fill="#000"/>
<ellipse cx="566.0" cy="116.0" rx="1.55" ry="1.72" fill="#000"/>
<ellipse cx="569.6" cy="105.0" rx="1.55" ry="1.72" fill="#000"/>
<ellipse cx="569.6" cy="109.2" rx="1.55" ry="1.72" fill="#000"/>
<ellipse cx="570.7" cy="119.1" rx="1.55" ry="1.72" fill="#000"/>
<ellipse cx="570.0" cy="123.6" rx="1.55" ry="1.72" fill="#000"/>
<ellipse cx="555.4" cy="128.5" rx="1.55" ry="1.72" fill="#000"/>
<ellipse cx="561.3" cy="127.7" rx="1.55" ry="1.72" fill="#000"/>
<ellipse cx="544.3" cy="132.3" rx="1.55" ry="1.72" fill="#000"/>
<ellipse cx="514.5" cy="140.6" rx="1.55" ry="1.72" fill="#000"/>
<ellipse cx="572.0" cy="105.0" rx="1.55" ry="1.72" fill="#000"/>
<ellipse cx="573.6" cy="108.7" rx="1.55" ry="1.72" fill="#000"/>
<ellipse cx="575.2" cy="107.1" rx="1.55" ry="1.72" fill="#000"/>
<ellipse cx="577.8" cy="106.6" rx="1.55" ry="1.72" fill="#000"/>
<ellipse cx="580.4" cy="107.1" rx="1.55" ry="1.72" fill="#000"/>
<ellipse cx="579.8" cy="110.8" rx="1.55" ry="1.72" fill="#000"/>
<ellipse cx="584.5" cy="107.1" rx="1.55" ry="1.72" fill="#000"/>
<ellipse cx="586.6" cy="110.2" rx="1.55" ry="1.72" fill="#000"/>
<ellipse cx="587.7" cy="109.7" rx="1.55" ry="1.72" fill="#000"/>
<ellipse cx="585.6" cy="113.4" rx="1.55" ry="1.72" fill="#000"/>
<ellipse cx="571.5" cy="118.8" rx="1.55" ry="1.72" fill="#000"/>
<ellipse cx="584.3" cy="118.4" rx="1.55" ry="1.72" fill="#000"/>
<ellipse cx="591.3" cy="117.5" rx="1.55" ry="1.72" fill="#000"/>
<ellipse cx="596.0" cy="106.1" rx="1.55" ry="1.72" fill="#000"/>
<ellipse cx="597.0" cy="104.5" rx="1.55" ry="1.72" fill="#000"/>
<ellipse cx="599.1" cy="105.0" rx="1.55" ry="1.72" fill="#000"/>
<ellipse cx="602.2" cy="107.3" rx="1.55" ry="1.72" fill="#000"/>
<ellipse cx="607.4" cy="106.3" rx="1.55" ry="1.72" fill="#000"/>
<ellipse cx="610.6" cy="105.2" rx="1.55" ry="1.72" fill="#000"/>
<ellipse cx="635.8" cy="105.2" rx="1.55" ry="1.72" fill="#000"/>
<ellipse cx="644.7" cy="105.9" rx="1.55" ry="1.72" fill="#000"/>
<ellipse cx="628.1" cy="120.1" rx="1.55" ry="1.72" fill="#000"/>
<ellipse cx="606.9" cy="123.6" rx="1.55" ry="1.72" fill="#000"/>
<ellipse cx="576.0" cy="128.5" rx="1.55" ry="1.72" fill="#000"/>
<ellipse cx="582.2" cy="127.9" rx="1.55" ry="1.72" fill="#000"/>
<line x1="490.75" y1="93.2" x2="650.5" y2="87.3" stroke="#000" stroke-width="1.4"/>
<text transform="translate(7.00 15.00)" font-size="20" text-anchor="middle">a</text>
<text transform="translate(226.00 15.00)" font-size="20" text-anchor="middle">b</text>
<text transform="translate(456.60 15.40)" font-size="20" text-anchor="middle">c</text>
<text transform="translate(7.00 224.60)" font-size="19.5" text-anchor="middle">d</text>
<text transform="translate(226.00 224.60)" font-size="20" text-anchor="middle">e</text>
<text transform="translate(455.00 224.00)" font-size="20" text-anchor="middle">f</text>
<text transform="translate(123.80 235.70)" font-size="25.4" text-anchor="middle" textLength="61.5" lengthAdjust="spacingAndGlyphs">Older</text>
<text transform="translate(359.30 230.50)" font-size="25.3" text-anchor="middle" textLength="95.5" lengthAdjust="spacingAndGlyphs">Younger</text>
<text transform="translate(43.90 166.00)" font-size="12" text-anchor="middle">-10</text>
<text transform="translate(80.40 166.00)" font-size="12" text-anchor="middle">-5</text>
<text transform="translate(116.90 166.00)" font-size="12" text-anchor="middle">0</text>
<text transform="translate(153.40 166.00)" font-size="12" text-anchor="middle">5</text>
<text transform="translate(189.90 166.00)" font-size="12" text-anchor="middle">10</text>
<text transform="translate(30.30 29.85) rotate(-90)" font-size="12" text-anchor="middle">20</text>
<text transform="translate(30.30 59.55) rotate(-90)" font-size="12" text-anchor="middle">10</text>
<text transform="translate(30.30 89.25) rotate(-90)" font-size="12" text-anchor="middle">0</text>
<text transform="translate(30.30 118.95) rotate(-90)" font-size="12" text-anchor="middle">-10</text>
<text transform="translate(120.50 188.00)" font-size="12" text-anchor="middle" textLength="55.5" lengthAdjust="spacingAndGlyphs">Life Stress</text>
<text transform="translate(10.00 81.75) rotate(-90)" font-size="12" text-anchor="middle">Δ-age</text>
<text transform="translate(301.70 166.60)" font-size="13" text-anchor="middle">-5</text>
<text transform="translate(349.20 166.60)" font-size="13" text-anchor="middle">0</text>
<text transform="translate(396.70 166.60)" font-size="13" text-anchor="middle">5</text>
<text transform="translate(255.00 28.60) rotate(-90)" font-size="13" text-anchor="middle">20</text>
<text transform="translate(255.00 58.30) rotate(-90)" font-size="13" text-anchor="middle">10</text>
<text transform="translate(255.00 88.00) rotate(-90)" font-size="13" text-anchor="middle">0</text>
<text transform="translate(255.00 117.70) rotate(-90)" font-size="13" text-anchor="middle">-10</text>
<text transform="translate(345.30 190.50)" font-size="13.2" text-anchor="middle" textLength="120" lengthAdjust="spacingAndGlyphs">Personal Life Stress</text>
<text transform="translate(230.40 80.00) rotate(-90)" font-size="13.3" text-anchor="middle">Δ-age</text>
<text transform="translate(530.60 166.20) scale(0.88 1)" font-size="13" text-anchor="middle">-2</text>
<text transform="translate(571.00 166.20) scale(0.88 1)" font-size="13" text-anchor="middle">0</text>
<text transform="translate(611.40 166.20) scale(0.88 1)" font-size="13" text-anchor="middle">2</text>
<text transform="translate(479.80 30.30) scale(0.88 1) rotate(-90)" font-size="13" text-anchor="middle">20</text>
<text transform="translate(479.80 59.90) scale(0.88 1) rotate(-90)" font-size="13" text-anchor="middle">10</text>
<text transform="translate(479.80 89.50) scale(0.88 1) rotate(-90)" font-size="13" text-anchor="middle">0</text>
<text transform="translate(479.80 119.10) scale(0.88 1) rotate(-90)" font-size="13" text-anchor="middle">-10</text>
<text transform="translate(570.40 188.90)" font-size="12.5" text-anchor="middle" textLength="95.5" lengthAdjust="spacingAndGlyphs">Network Life Stress</text>
<text transform="translate(459.30 81.80) scale(0.95 1) rotate(-90)" font-size="12.5" text-anchor="middle">Δ-age</text>
<text transform="translate(61.10 398.20) scale(0.88 1)" font-size="13.2" text-anchor="middle">-6</text>
<text transform="translate(84.40 398.20) scale(0.88 1)" font-size="13.2" text-anchor="middle">-4</text>
<text transform="translate(107.70 398.20) scale(0.88 1)" font-size="13.2" text-anchor="middle">-2</text>
<text transform="translate(131.00 398.20) scale(0.88 1)" font-size="13.2" text-anchor="middle">0</text>
<text transform="translate(154.30 398.20) scale(0.88 1)" font-size="13.2" text-anchor="middle">2</text>
<text transform="translate(177.60 398.20) scale(0.88 1)" font-size="13.2" text-anchor="middle">4</text>
<text transform="translate(200.90 398.20) scale(0.88 1)" font-size="13.2" text-anchor="middle">6</text>
<text transform="translate(31.50 243.35) scale(0.88 1) rotate(-90)" font-size="13.2" text-anchor="middle">20</text>
<text transform="translate(31.50 277.55) scale(0.88 1) rotate(-90)" font-size="13.2" text-anchor="middle">10</text>
<text transform="translate(31.50 311.75) scale(0.88 1) rotate(-90)" font-size="13.2" text-anchor="middle">0</text>
<text transform="translate(31.50 345.95) scale(0.88 1) rotate(-90)" font-size="13.2" text-anchor="middle">-10</text>
<text transform="translate(126.30 421.60)" font-size="13" text-anchor="middle" textLength="108" lengthAdjust="spacingAndGlyphs">Personal Life Stress</text>
<text transform="translate(9.60 308.60) scale(0.9 1) rotate(-90)" font-size="13.3" text-anchor="middle">Δ-age</text>
<line x1="441.70" y1="378" x2="441.70" y2="382.5" stroke="#555" stroke-width="1.1"/>
<text transform="translate(297.20 398.50)" font-size="12.6" text-anchor="middle">-4</text>
<text transform="translate(326.10 398.50)" font-size="12.6" text-anchor="middle">-2</text>
<text transform="translate(355.00 398.50)" font-size="12.6" text-anchor="middle">0</text>
<text transform="translate(383.90 398.50)" font-size="12.6" text-anchor="middle">2</text>
<text transform="translate(412.80 398.50)" font-size="12.6" text-anchor="middle">4</text>
<text transform="translate(441.70 398.50)" font-size="12.6" text-anchor="middle">6</text>
<text transform="translate(256.80 271.55) rotate(-90)" font-size="11.8" text-anchor="middle">15</text>
<text transform="translate(256.80 307.85) rotate(-90)" font-size="11.8" text-anchor="middle">5</text>
<text transform="translate(256.80 326.00) rotate(-90)" font-size="11.8" text-anchor="middle">0</text>
<text transform="translate(256.80 362.30) rotate(-90)" font-size="11.8" text-anchor="middle">-10</text>
<text transform="translate(355.30 421.30)" font-size="12.3" text-anchor="middle" textLength="115" lengthAdjust="spacingAndGlyphs">Personal Life Stress</text>
<text transform="translate(234.50 308.00) rotate(-90)" font-size="12" text-anchor="middle">Δ-age</text>
<text transform="translate(495.45 397.20)" font-size="8.6" text-anchor="middle">-10</text>
<text transform="translate(536.10 397.20)" font-size="8.6" text-anchor="middle">-5</text>
<text transform="translate(576.75 397.20)" font-size="8.6" text-anchor="middle">0</text>
<text transform="translate(617.40 397.20)" font-size="8.6" text-anchor="middle">5</text>
<text transform="translate(658.05 397.20)" font-size="8.6" text-anchor="middle">10</text>
<text transform="translate(482.00 235.25) rotate(-90)" font-size="9.2" text-anchor="middle">20</text>
<text transform="translate(482.00 272.25) rotate(-90)" font-size="9.2" text-anchor="middle">10</text>
<text transform="translate(482.00 309.25) rotate(-90)" font-size="9.2" text-anchor="middle">0</text>
<text transform="translate(482.00 346.25) rotate(-90)" font-size="9.2" text-anchor="middle">-10</text>
<text transform="translate(574.00 417.00)" font-size="12" text-anchor="middle" textLength="49" lengthAdjust="spacingAndGlyphs">Life stress</text>
<text transform="translate(468.30 299.70) rotate(-90)" font-size="12.4" text-anchor="middle">Δ-age</text>
<line x1="678.5" y1="243.25" x2="697" y2="243.25" stroke="#f00" stroke-width="2"/>
<line x1="678.5" y1="272.5" x2="697" y2="272.5" stroke="#00f" stroke-width="2"/>
<text transform="translate(703.00 245.20)" font-size="9.5" text-anchor="start" textLength="47" lengthAdjust="spacingAndGlyphs">Moderate to</text>
<text transform="translate(703.00 258.00)" font-size="9.5" text-anchor="start" textLength="73.5" lengthAdjust="spacingAndGlyphs">extreme child abuse</text>
<text transform="translate(702.50 274.00)" font-size="9.5" text-anchor="start" textLength="47" lengthAdjust="spacingAndGlyphs">None to mild</text>
<text transform="translate(702.50 286.00)" font-size="9.5" text-anchor="start" textLength="42" lengthAdjust="spacingAndGlyphs">child abuse</text>
</svg></body></html>
